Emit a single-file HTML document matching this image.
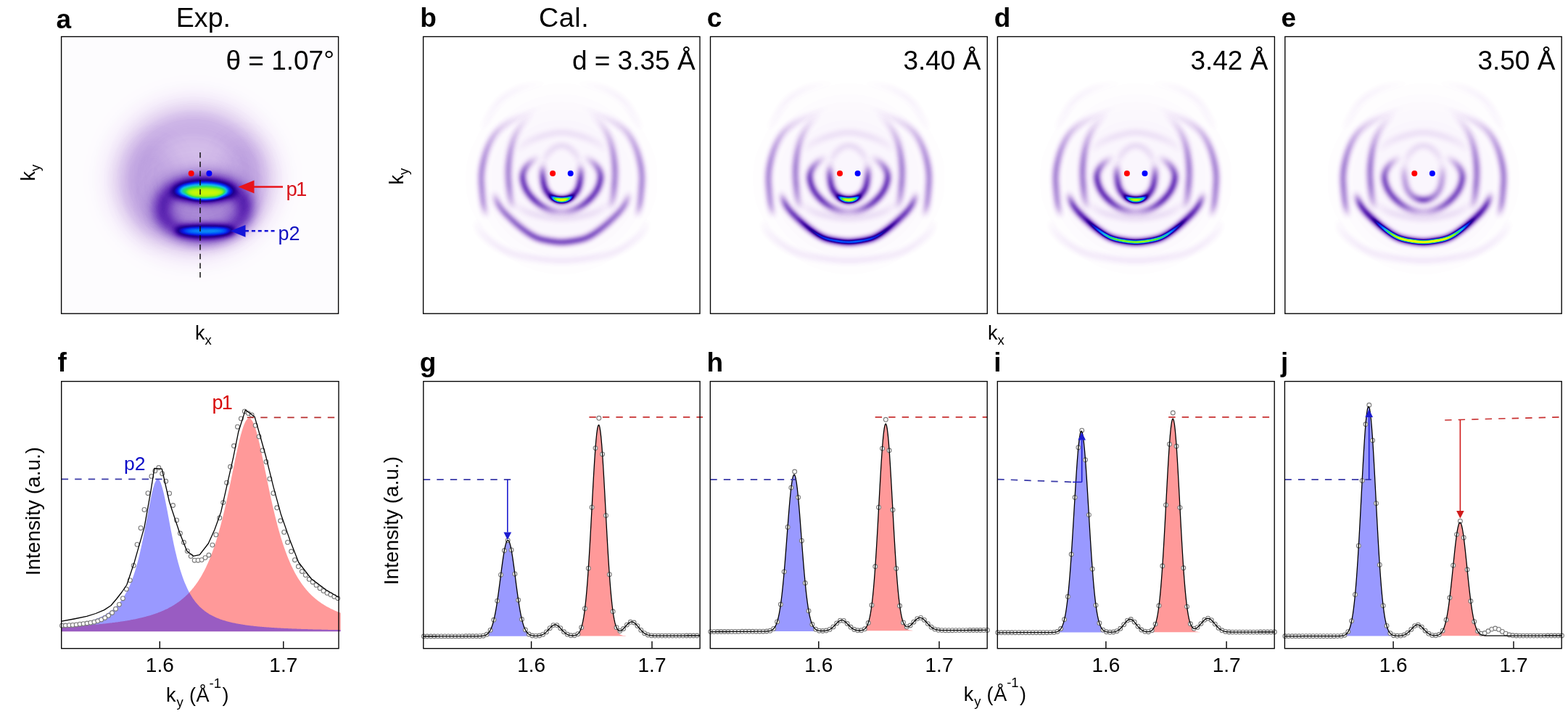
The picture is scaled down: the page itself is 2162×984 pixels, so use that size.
<!DOCTYPE html>
<html><head><meta charset="utf-8"><title>Figure</title>
<style>
html,body{margin:0;padding:0;background:#fff;}
body{width:2162px;height:984px;overflow:hidden;}
svg{display:block;}
text{font-family:'Liberation Sans', Arial, Helvetica, sans-serif;}
</style></head><body>
<svg width="2162" height="984" viewBox="0 0 2162 984">
<defs>
<filter id="ab1_8" filterUnits="userSpaceOnUse" x="-250" y="-250" width="500" height="500"><feGaussianBlur stdDeviation="1.8"/></filter>
<filter id="ab2_0" filterUnits="userSpaceOnUse" x="-250" y="-250" width="500" height="500"><feGaussianBlur stdDeviation="2.0"/></filter>
<filter id="ab3_5" filterUnits="userSpaceOnUse" x="-250" y="-250" width="500" height="500"><feGaussianBlur stdDeviation="3.5"/></filter>
<g id="A0" filter="url(#ab3_5)"><g fill="none" stroke="#000" stroke-width="8" stroke-linecap="butt"><path d="M-112 -58L-110 -61.4" stroke-opacity="0.077"/><path d="M-110 -61.4L-108 -64.9" stroke-opacity="0.235"/><path d="M-108 -64.9L-106 -68.3" stroke-opacity="0.375"/><path d="M-106 -68.3L-103.9 -71.6" stroke-opacity="0.473"/><path d="M-103.9 -71.6L-101.9 -75" stroke-opacity="0.541"/><path d="M-101.9 -75L-99.9 -78.5" stroke-opacity="0.595"/><path d="M-99.9 -78.5L-98 -81.9" stroke-opacity="0.641"/><path d="M-98 -81.9L-95.9 -85.3" stroke-opacity="0.682"/><path d="M-95.9 -85.3L-93.8 -88.7" stroke-opacity="0.717"/><path d="M-93.8 -88.7L-91.6 -92" stroke-opacity="0.749"/><path d="M-91.6 -92L-89.2 -95.1" stroke-opacity="0.775"/><path d="M-89.2 -95.1L-86.6 -98.1" stroke-opacity="0.794"/><path d="M-86.6 -98.1L-83.8 -100.8" stroke-opacity="0.805"/><path d="M-83.8 -100.8L-80.7 -103.3" stroke-opacity="0.807"/><path d="M-80.7 -103.3L-77.5 -105.7" stroke-opacity="0.800"/><path d="M-77.5 -105.7L-74.2 -107.8" stroke-opacity="0.786"/><path d="M-74.2 -107.8L-70.8 -109.9" stroke-opacity="0.765"/><path d="M-70.8 -109.9L-67.3 -111.8" stroke-opacity="0.739"/><path d="M-67.3 -111.8L-63.9 -113.7" stroke-opacity="0.708"/><path d="M-63.9 -113.7L-60.3 -115.5" stroke-opacity="0.668"/><path d="M-60.3 -115.5L-56.6 -117" stroke-opacity="0.614"/><path d="M-56.6 -117L-52.9 -118.2" stroke-opacity="0.547"/><path d="M-52.9 -118.2L-49 -119.2" stroke-opacity="0.478"/><path d="M-49 -119.2L-45.2 -120.1" stroke-opacity="0.415"/><path d="M-45.2 -120.1L-41.3 -121" stroke-opacity="0.359"/><path d="M-41.3 -121L-37.4 -121.8" stroke-opacity="0.305"/><path d="M-37.4 -121.8L-33.5 -122.4" stroke-opacity="0.253"/><path d="M-33.5 -122.4L-29.6 -123" stroke-opacity="0.203"/><path d="M-29.6 -123L-25.7 -123.6" stroke-opacity="0.157"/><path d="M-25.7 -123.6L-21.8 -124" stroke-opacity="0.117"/><path d="M-21.8 -124L-17.8 -124.4" stroke-opacity="0.082"/><path d="M-17.8 -124.4L-13.9 -124.7" stroke-opacity="0.054"/><path d="M-13.9 -124.7L-9.9 -124.9" stroke-opacity="0.031"/><path d="M-9.9 -124.9L-5.9 -125" stroke-opacity="0.014"/><path d="M-5.9 -125L-2 -125" stroke-opacity="0.004"/><path d="M2 -125L5.9 -125" stroke-opacity="0.004"/><path d="M5.9 -125L9.9 -124.9" stroke-opacity="0.014"/><path d="M9.9 -124.9L13.9 -124.7" stroke-opacity="0.031"/><path d="M13.9 -124.7L17.8 -124.4" stroke-opacity="0.054"/><path d="M17.8 -124.4L21.8 -124" stroke-opacity="0.082"/><path d="M21.8 -124L25.7 -123.6" stroke-opacity="0.117"/><path d="M25.7 -123.6L29.6 -123" stroke-opacity="0.157"/><path d="M29.6 -123L33.5 -122.4" stroke-opacity="0.203"/><path d="M33.5 -122.4L37.4 -121.8" stroke-opacity="0.253"/><path d="M37.4 -121.8L41.3 -121" stroke-opacity="0.305"/><path d="M41.3 -121L45.2 -120.1" stroke-opacity="0.359"/><path d="M45.2 -120.1L49 -119.2" stroke-opacity="0.415"/><path d="M49 -119.2L52.9 -118.2" stroke-opacity="0.478"/><path d="M52.9 -118.2L56.6 -117" stroke-opacity="0.547"/><path d="M56.6 -117L60.3 -115.5" stroke-opacity="0.614"/><path d="M60.3 -115.5L63.9 -113.7" stroke-opacity="0.668"/><path d="M63.9 -113.7L67.3 -111.8" stroke-opacity="0.708"/><path d="M67.3 -111.8L70.8 -109.9" stroke-opacity="0.739"/><path d="M70.8 -109.9L74.2 -107.8" stroke-opacity="0.765"/><path d="M74.2 -107.8L77.5 -105.7" stroke-opacity="0.786"/><path d="M77.5 -105.7L80.7 -103.3" stroke-opacity="0.800"/><path d="M80.7 -103.3L83.8 -100.8" stroke-opacity="0.807"/><path d="M83.8 -100.8L86.6 -98.1" stroke-opacity="0.805"/><path d="M86.6 -98.1L89.2 -95.1" stroke-opacity="0.794"/><path d="M89.2 -95.1L91.6 -92" stroke-opacity="0.775"/><path d="M91.6 -92L93.8 -88.7" stroke-opacity="0.749"/><path d="M93.8 -88.7L95.9 -85.3" stroke-opacity="0.717"/><path d="M95.9 -85.3L98 -81.9" stroke-opacity="0.682"/><path d="M98 -81.9L99.9 -78.5" stroke-opacity="0.641"/><path d="M99.9 -78.5L101.9 -75" stroke-opacity="0.595"/><path d="M101.9 -75L103.9 -71.6" stroke-opacity="0.541"/><path d="M103.9 -71.6L106 -68.3" stroke-opacity="0.473"/><path d="M106 -68.3L108 -64.9" stroke-opacity="0.375"/><path d="M108 -64.9L110 -61.4" stroke-opacity="0.235"/><path d="M110 -61.4L112 -58" stroke-opacity="0.077"/></g></g>
<g id="A1L" filter="url(#ab3_5)"><g fill="none" stroke="#000" stroke-width="7" stroke-linecap="butt"><path d="M-22 -92L-25.7 -90.6" stroke-opacity="0.006"/><path d="M-25.7 -90.6L-29.3 -89.1" stroke-opacity="0.019"/><path d="M-29.3 -89.1L-33 -87.7" stroke-opacity="0.032"/><path d="M-33 -87.7L-36.6 -86.3" stroke-opacity="0.045"/><path d="M-36.6 -86.3L-40.3 -84.8" stroke-opacity="0.061"/><path d="M-40.3 -84.8L-43.9 -83.3" stroke-opacity="0.078"/><path d="M-43.9 -83.3L-47.6 -81.8" stroke-opacity="0.097"/><path d="M-47.6 -81.8L-51.2 -80.3" stroke-opacity="0.119"/><path d="M-51.2 -80.3L-54.8 -78.7" stroke-opacity="0.142"/><path d="M-54.8 -78.7L-58.4 -77.2" stroke-opacity="0.169"/><path d="M-58.4 -77.2L-62 -75.6" stroke-opacity="0.198"/><path d="M-62 -75.6L-65.6 -74" stroke-opacity="0.228"/><path d="M-65.6 -74L-69.1 -72.2" stroke-opacity="0.261"/><path d="M-69.1 -72.2L-72.5 -70.3" stroke-opacity="0.295"/><path d="M-72.5 -70.3L-75.8 -68.2" stroke-opacity="0.332"/><path d="M-75.8 -68.2L-79.1 -65.9" stroke-opacity="0.370"/><path d="M-79.1 -65.9L-82.2 -63.6" stroke-opacity="0.410"/><path d="M-82.2 -63.6L-85.2 -61.1" stroke-opacity="0.450"/><path d="M-85.2 -61.1L-88.1 -58.3" stroke-opacity="0.492"/><path d="M-88.1 -58.3L-90.7 -55.4" stroke-opacity="0.535"/><path d="M-90.7 -55.4L-93 -52.3" stroke-opacity="0.580"/><path d="M-93 -52.3L-95.2 -49" stroke-opacity="0.624"/><path d="M-95.2 -49L-97.2 -45.6" stroke-opacity="0.667"/><path d="M-97.2 -45.6L-99 -42.1" stroke-opacity="0.709"/><path d="M-99 -42.1L-100.7 -38.5" stroke-opacity="0.750"/><path d="M-100.7 -38.5L-102.2 -34.9" stroke-opacity="0.790"/><path d="M-102.2 -34.9L-103.6 -31.2" stroke-opacity="0.828"/><path d="M-103.6 -31.2L-104.9 -27.5" stroke-opacity="0.863"/><path d="M-104.9 -27.5L-106 -23.7" stroke-opacity="0.893"/><path d="M-106 -23.7L-107 -20" stroke-opacity="0.919"/><path d="M-107 -20L-107.9 -16.1" stroke-opacity="0.940"/><path d="M-107.9 -16.1L-108.7 -12.3" stroke-opacity="0.959"/><path d="M-108.7 -12.3L-109.4 -8.4" stroke-opacity="0.974"/><path d="M-109.4 -8.4L-110 -4.5" stroke-opacity="0.988"/><path d="M-110 -4.5L-110.4 -0.6" stroke-opacity="0.998"/><path d="M-110.4 -0.6L-110.7 3.3" stroke-opacity="1.000"/><path d="M-110.7 3.3L-110.8 7.2" stroke-opacity="1.000"/><path d="M-110.8 7.2L-110.7 11.2" stroke-opacity="1.000"/><path d="M-110.7 11.2L-110.5 15.1" stroke-opacity="1.000"/><path d="M-110.5 15.1L-110.2 19" stroke-opacity="1.000"/><path d="M-110.2 19L-110 22.9" stroke-opacity="0.989"/><path d="M-110 22.9L-109.6 26.9" stroke-opacity="0.976"/><path d="M-109.6 26.9L-109.3 30.8" stroke-opacity="0.961"/><path d="M-109.3 30.8L-108.9 34.7" stroke-opacity="0.940"/><path d="M-108.9 34.7L-108.4 38.6" stroke-opacity="0.910"/><path d="M-108.4 38.6L-107.9 42.5" stroke-opacity="0.864"/><path d="M-107.9 42.5L-107.2 46.4" stroke-opacity="0.790"/><path d="M-107.2 46.4L-106.3 50.2" stroke-opacity="0.673"/><path d="M-106.3 50.2L-105.3 54" stroke-opacity="0.506"/><path d="M-105.3 54L-104.1 57.7" stroke-opacity="0.303"/><path d="M-104.1 57.7L-103 61.5" stroke-opacity="0.098"/></g></g>
<g id="A1R" filter="url(#ab3_5)"><g fill="none" stroke="#000" stroke-width="7" stroke-linecap="butt"><path d="M22 -92L25.7 -90.6" stroke-opacity="0.006"/><path d="M25.7 -90.6L29.3 -89.1" stroke-opacity="0.019"/><path d="M29.3 -89.1L33 -87.7" stroke-opacity="0.032"/><path d="M33 -87.7L36.6 -86.3" stroke-opacity="0.045"/><path d="M36.6 -86.3L40.3 -84.8" stroke-opacity="0.061"/><path d="M40.3 -84.8L43.9 -83.3" stroke-opacity="0.078"/><path d="M43.9 -83.3L47.6 -81.8" stroke-opacity="0.097"/><path d="M47.6 -81.8L51.2 -80.3" stroke-opacity="0.119"/><path d="M51.2 -80.3L54.8 -78.7" stroke-opacity="0.142"/><path d="M54.8 -78.7L58.4 -77.2" stroke-opacity="0.169"/><path d="M58.4 -77.2L62 -75.6" stroke-opacity="0.198"/><path d="M62 -75.6L65.6 -74" stroke-opacity="0.228"/><path d="M65.6 -74L69.1 -72.2" stroke-opacity="0.261"/><path d="M69.1 -72.2L72.5 -70.3" stroke-opacity="0.295"/><path d="M72.5 -70.3L75.8 -68.2" stroke-opacity="0.332"/><path d="M75.8 -68.2L79.1 -65.9" stroke-opacity="0.370"/><path d="M79.1 -65.9L82.2 -63.6" stroke-opacity="0.410"/><path d="M82.2 -63.6L85.2 -61.1" stroke-opacity="0.450"/><path d="M85.2 -61.1L88.1 -58.3" stroke-opacity="0.492"/><path d="M88.1 -58.3L90.7 -55.4" stroke-opacity="0.535"/><path d="M90.7 -55.4L93 -52.3" stroke-opacity="0.580"/><path d="M93 -52.3L95.2 -49" stroke-opacity="0.624"/><path d="M95.2 -49L97.2 -45.6" stroke-opacity="0.667"/><path d="M97.2 -45.6L99 -42.1" stroke-opacity="0.709"/><path d="M99 -42.1L100.7 -38.5" stroke-opacity="0.750"/><path d="M100.7 -38.5L102.2 -34.9" stroke-opacity="0.790"/><path d="M102.2 -34.9L103.6 -31.2" stroke-opacity="0.828"/><path d="M103.6 -31.2L104.9 -27.5" stroke-opacity="0.863"/><path d="M104.9 -27.5L106 -23.7" stroke-opacity="0.893"/><path d="M106 -23.7L107 -20" stroke-opacity="0.919"/><path d="M107 -20L107.9 -16.1" stroke-opacity="0.940"/><path d="M107.9 -16.1L108.7 -12.3" stroke-opacity="0.959"/><path d="M108.7 -12.3L109.4 -8.4" stroke-opacity="0.974"/><path d="M109.4 -8.4L110 -4.5" stroke-opacity="0.988"/><path d="M110 -4.5L110.4 -0.6" stroke-opacity="0.998"/><path d="M110.4 -0.6L110.7 3.3" stroke-opacity="1.000"/><path d="M110.7 3.3L110.8 7.2" stroke-opacity="1.000"/><path d="M110.8 7.2L110.7 11.2" stroke-opacity="1.000"/><path d="M110.7 11.2L110.5 15.1" stroke-opacity="1.000"/><path d="M110.5 15.1L110.2 19" stroke-opacity="1.000"/><path d="M110.2 19L110 22.9" stroke-opacity="0.989"/><path d="M110 22.9L109.6 26.9" stroke-opacity="0.976"/><path d="M109.6 26.9L109.3 30.8" stroke-opacity="0.961"/><path d="M109.3 30.8L108.9 34.7" stroke-opacity="0.940"/><path d="M108.9 34.7L108.4 38.6" stroke-opacity="0.910"/><path d="M108.4 38.6L107.9 42.5" stroke-opacity="0.864"/><path d="M107.9 42.5L107.2 46.4" stroke-opacity="0.790"/><path d="M107.2 46.4L106.3 50.2" stroke-opacity="0.673"/><path d="M106.3 50.2L105.3 54" stroke-opacity="0.506"/><path d="M105.3 54L104.1 57.7" stroke-opacity="0.303"/><path d="M104.1 57.7L103 61.5" stroke-opacity="0.098"/></g></g>
<g id="A5L" filter="url(#ab3_5)"><g fill="none" stroke="#000" stroke-width="7" stroke-linecap="butt"><path d="M-38 -82L-41.2 -79.7" stroke-opacity="0.018"/><path d="M-41.2 -79.7L-44.4 -77.5" stroke-opacity="0.053"/><path d="M-44.4 -77.5L-47.4 -75" stroke-opacity="0.091"/><path d="M-47.4 -75L-50.2 -72.3" stroke-opacity="0.135"/><path d="M-50.2 -72.3L-52.9 -69.5" stroke-opacity="0.188"/><path d="M-52.9 -69.5L-55.4 -66.5" stroke-opacity="0.244"/><path d="M-55.4 -66.5L-57.7 -63.3" stroke-opacity="0.301"/><path d="M-57.7 -63.3L-59.7 -60" stroke-opacity="0.357"/><path d="M-59.7 -60L-61.7 -56.6" stroke-opacity="0.413"/><path d="M-61.7 -56.6L-63.4 -53.1" stroke-opacity="0.470"/><path d="M-63.4 -53.1L-65.1 -49.6" stroke-opacity="0.527"/><path d="M-65.1 -49.6L-66.6 -46" stroke-opacity="0.585"/><path d="M-66.6 -46L-67.8 -42.3" stroke-opacity="0.642"/><path d="M-67.8 -42.3L-68.9 -38.5" stroke-opacity="0.694"/><path d="M-68.9 -38.5L-69.8 -34.7" stroke-opacity="0.743"/><path d="M-69.8 -34.7L-70.6 -30.9" stroke-opacity="0.789"/><path d="M-70.6 -30.9L-71.2 -27.1" stroke-opacity="0.833"/><path d="M-71.2 -27.1L-71.8 -23.2" stroke-opacity="0.872"/><path d="M-71.8 -23.2L-72.3 -19.3" stroke-opacity="0.905"/><path d="M-72.3 -19.3L-72.8 -15.5" stroke-opacity="0.933"/><path d="M-72.8 -15.5L-73.1 -11.6" stroke-opacity="0.957"/><path d="M-73.1 -11.6L-73.4 -7.7" stroke-opacity="0.977"/><path d="M-73.4 -7.7L-73.6 -3.8" stroke-opacity="0.991"/><path d="M-73.6 -3.8L-73.6 0.1" stroke-opacity="1.000"/><path d="M-73.6 0.1L-73.5 4" stroke-opacity="1.000"/><path d="M-73.5 4L-73.4 7.9" stroke-opacity="1.000"/><path d="M-73.4 7.9L-73.1 11.8" stroke-opacity="0.998"/><path d="M-73.1 11.8L-72.8 15.7" stroke-opacity="0.981"/><path d="M-72.8 15.7L-72.4 19.6" stroke-opacity="0.951"/><path d="M-72.4 19.6L-72 23.5" stroke-opacity="0.908"/><path d="M-72 23.5L-71.6 27.4" stroke-opacity="0.854"/><path d="M-71.6 27.4L-71.1 31.2" stroke-opacity="0.790"/><path d="M-71.1 31.2L-70.5 35.1" stroke-opacity="0.712"/><path d="M-70.5 35.1L-69.7 38.9" stroke-opacity="0.616"/><path d="M-69.7 38.9L-68.7 42.7" stroke-opacity="0.482"/><path d="M-68.7 42.7L-67.3 46.3" stroke-opacity="0.302"/><path d="M-67.3 46.3L-66 50" stroke-opacity="0.100"/></g></g>
<g id="A5R" filter="url(#ab3_5)"><g fill="none" stroke="#000" stroke-width="7" stroke-linecap="butt"><path d="M38 -82L41.2 -79.7" stroke-opacity="0.018"/><path d="M41.2 -79.7L44.4 -77.5" stroke-opacity="0.053"/><path d="M44.4 -77.5L47.4 -75" stroke-opacity="0.091"/><path d="M47.4 -75L50.2 -72.3" stroke-opacity="0.135"/><path d="M50.2 -72.3L52.9 -69.5" stroke-opacity="0.188"/><path d="M52.9 -69.5L55.4 -66.5" stroke-opacity="0.244"/><path d="M55.4 -66.5L57.7 -63.3" stroke-opacity="0.301"/><path d="M57.7 -63.3L59.7 -60" stroke-opacity="0.357"/><path d="M59.7 -60L61.7 -56.6" stroke-opacity="0.413"/><path d="M61.7 -56.6L63.4 -53.1" stroke-opacity="0.470"/><path d="M63.4 -53.1L65.1 -49.6" stroke-opacity="0.527"/><path d="M65.1 -49.6L66.6 -46" stroke-opacity="0.585"/><path d="M66.6 -46L67.8 -42.3" stroke-opacity="0.642"/><path d="M67.8 -42.3L68.9 -38.5" stroke-opacity="0.694"/><path d="M68.9 -38.5L69.8 -34.7" stroke-opacity="0.743"/><path d="M69.8 -34.7L70.6 -30.9" stroke-opacity="0.789"/><path d="M70.6 -30.9L71.2 -27.1" stroke-opacity="0.833"/><path d="M71.2 -27.1L71.8 -23.2" stroke-opacity="0.872"/><path d="M71.8 -23.2L72.3 -19.3" stroke-opacity="0.905"/><path d="M72.3 -19.3L72.8 -15.5" stroke-opacity="0.933"/><path d="M72.8 -15.5L73.1 -11.6" stroke-opacity="0.957"/><path d="M73.1 -11.6L73.4 -7.7" stroke-opacity="0.977"/><path d="M73.4 -7.7L73.6 -3.8" stroke-opacity="0.991"/><path d="M73.6 -3.8L73.6 0.1" stroke-opacity="1.000"/><path d="M73.6 0.1L73.5 4" stroke-opacity="1.000"/><path d="M73.5 4L73.4 7.9" stroke-opacity="1.000"/><path d="M73.4 7.9L73.1 11.8" stroke-opacity="0.998"/><path d="M73.1 11.8L72.8 15.7" stroke-opacity="0.981"/><path d="M72.8 15.7L72.4 19.6" stroke-opacity="0.951"/><path d="M72.4 19.6L72 23.5" stroke-opacity="0.908"/><path d="M72 23.5L71.6 27.4" stroke-opacity="0.854"/><path d="M71.6 27.4L71.1 31.2" stroke-opacity="0.790"/><path d="M71.1 31.2L70.5 35.1" stroke-opacity="0.712"/><path d="M70.5 35.1L69.7 38.9" stroke-opacity="0.616"/><path d="M69.7 38.9L68.7 42.7" stroke-opacity="0.482"/><path d="M68.7 42.7L67.3 46.3" stroke-opacity="0.302"/><path d="M67.3 46.3L66 50" stroke-opacity="0.100"/></g></g>
<g id="A3" filter="url(#ab3_5)"><g fill="none" stroke="#000" stroke-width="7" stroke-linecap="butt"><path d="M-94 26L-92.8 29.8" stroke-opacity="0.085"/><path d="M-92.8 29.8L-91.6 33.5" stroke-opacity="0.256"/><path d="M-91.6 33.5L-90.3 37.2" stroke-opacity="0.418"/><path d="M-90.3 37.2L-88.6 40.8" stroke-opacity="0.545"/><path d="M-88.6 40.8L-86.7 44.3" stroke-opacity="0.626"/><path d="M-86.7 44.3L-84.5 47.6" stroke-opacity="0.672"/><path d="M-84.5 47.6L-82.1 50.7" stroke-opacity="0.703"/><path d="M-82.1 50.7L-79.5 53.7" stroke-opacity="0.731"/><path d="M-79.5 53.7L-76.8 56.5" stroke-opacity="0.755"/><path d="M-76.8 56.5L-74 59.3" stroke-opacity="0.774"/><path d="M-74 59.3L-71.1 62" stroke-opacity="0.791"/><path d="M-71.1 62L-68.2 64.7" stroke-opacity="0.807"/><path d="M-68.2 64.7L-65.3 67.4" stroke-opacity="0.824"/><path d="M-65.3 67.4L-62.4 70" stroke-opacity="0.840"/><path d="M-62.4 70L-59.4 72.6" stroke-opacity="0.856"/><path d="M-59.4 72.6L-56.3 75.1" stroke-opacity="0.871"/><path d="M-56.3 75.1L-53.2 77.5" stroke-opacity="0.886"/><path d="M-53.2 77.5L-50 79.8" stroke-opacity="0.900"/><path d="M-50 79.8L-46.8 82.1" stroke-opacity="0.913"/><path d="M-46.8 82.1L-43.5 84.3" stroke-opacity="0.925"/><path d="M-43.5 84.3L-40.1 86.4" stroke-opacity="0.937"/><path d="M-40.1 86.4L-36.6 88.2" stroke-opacity="0.948"/><path d="M-36.6 88.2L-33 89.8" stroke-opacity="0.958"/><path d="M-33 89.8L-29.3 91" stroke-opacity="0.968"/><path d="M-29.3 91L-25.4 91.9" stroke-opacity="0.977"/><path d="M-25.4 91.9L-21.5 92.7" stroke-opacity="0.985"/><path d="M-21.5 92.7L-17.7 93.4" stroke-opacity="0.992"/><path d="M-17.7 93.4L-13.8 94" stroke-opacity="0.998"/><path d="M-13.8 94L-9.8 94.6" stroke-opacity="1.000"/><path d="M-9.8 94.6L-5.9 95" stroke-opacity="1.000"/><path d="M-5.9 95L-2 95.2" stroke-opacity="1.000"/><path d="M-2 95.2L2 95.2" stroke-opacity="1.000"/><path d="M2 95.2L5.9 95" stroke-opacity="1.000"/><path d="M5.9 95L9.8 94.6" stroke-opacity="1.000"/><path d="M9.8 94.6L13.8 94" stroke-opacity="1.000"/><path d="M13.8 94L17.7 93.4" stroke-opacity="0.998"/><path d="M17.7 93.4L21.5 92.7" stroke-opacity="0.992"/><path d="M21.5 92.7L25.4 91.9" stroke-opacity="0.985"/><path d="M25.4 91.9L29.3 91" stroke-opacity="0.977"/><path d="M29.3 91L33 89.8" stroke-opacity="0.968"/><path d="M33 89.8L36.6 88.2" stroke-opacity="0.958"/><path d="M36.6 88.2L40.1 86.4" stroke-opacity="0.948"/><path d="M40.1 86.4L43.5 84.3" stroke-opacity="0.937"/><path d="M43.5 84.3L46.8 82.1" stroke-opacity="0.925"/><path d="M46.8 82.1L50 79.8" stroke-opacity="0.913"/><path d="M50 79.8L53.2 77.5" stroke-opacity="0.900"/><path d="M53.2 77.5L56.3 75.1" stroke-opacity="0.886"/><path d="M56.3 75.1L59.4 72.6" stroke-opacity="0.871"/><path d="M59.4 72.6L62.4 70" stroke-opacity="0.856"/><path d="M62.4 70L65.3 67.4" stroke-opacity="0.840"/><path d="M65.3 67.4L68.2 64.7" stroke-opacity="0.824"/><path d="M68.2 64.7L71.1 62" stroke-opacity="0.807"/><path d="M71.1 62L74 59.3" stroke-opacity="0.791"/><path d="M74 59.3L76.8 56.5" stroke-opacity="0.774"/><path d="M76.8 56.5L79.5 53.7" stroke-opacity="0.755"/><path d="M79.5 53.7L82.1 50.7" stroke-opacity="0.731"/><path d="M82.1 50.7L84.5 47.6" stroke-opacity="0.703"/><path d="M84.5 47.6L86.7 44.3" stroke-opacity="0.672"/><path d="M86.7 44.3L88.6 40.8" stroke-opacity="0.626"/><path d="M88.6 40.8L90.3 37.2" stroke-opacity="0.545"/><path d="M90.3 37.2L91.6 33.5" stroke-opacity="0.418"/><path d="M91.6 33.5L92.8 29.8" stroke-opacity="0.256"/><path d="M92.8 29.8L94 26" stroke-opacity="0.085"/></g></g>
<g id="A4" filter="url(#ab3_5)"><g fill="none" stroke="#000" stroke-width="8" stroke-linecap="butt"><path d="M-118 62L-117.3 65.9" stroke-opacity="0.073"/><path d="M-117.3 65.9L-116.8 69.9" stroke-opacity="0.221"/><path d="M-116.8 69.9L-116.1 73.7" stroke-opacity="0.369"/><path d="M-116.1 73.7L-114.6 77.4" stroke-opacity="0.499"/><path d="M-114.6 77.4L-112.3 80.7" stroke-opacity="0.599"/><path d="M-112.3 80.7L-109.8 83.7" stroke-opacity="0.672"/><path d="M-109.8 83.7L-107 86.6" stroke-opacity="0.727"/><path d="M-107 86.6L-104.1 89.3" stroke-opacity="0.773"/><path d="M-104.1 89.3L-101.1 91.9" stroke-opacity="0.812"/><path d="M-101.1 91.9L-98 94.4" stroke-opacity="0.845"/><path d="M-98 94.4L-94.8 96.8" stroke-opacity="0.876"/><path d="M-94.8 96.8L-91.6 99" stroke-opacity="0.904"/><path d="M-91.6 99L-88.2 101.1" stroke-opacity="0.928"/><path d="M-88.2 101.1L-84.8 103.2" stroke-opacity="0.948"/><path d="M-84.8 103.2L-81.3 105" stroke-opacity="0.963"/><path d="M-81.3 105L-77.7 106.8" stroke-opacity="0.974"/><path d="M-77.7 106.8L-74.1 108.4" stroke-opacity="0.984"/><path d="M-74.1 108.4L-70.4 109.9" stroke-opacity="0.991"/><path d="M-70.4 109.9L-66.7 111.2" stroke-opacity="0.998"/><path d="M-66.7 111.2L-62.9 112.4" stroke-opacity="1.000"/><path d="M-62.9 112.4L-59 113.5" stroke-opacity="1.000"/><path d="M-59 113.5L-55.2 114.4" stroke-opacity="1.000"/><path d="M-55.2 114.4L-51.3 115.2" stroke-opacity="1.000"/><path d="M-51.3 115.2L-47.4 115.9" stroke-opacity="1.000"/><path d="M-47.4 115.9L-43.5 116.6" stroke-opacity="1.000"/><path d="M-43.5 116.6L-39.6 117.2" stroke-opacity="1.000"/><path d="M-39.6 117.2L-35.6 117.8" stroke-opacity="1.000"/><path d="M-35.6 117.8L-31.7 118.4" stroke-opacity="1.000"/><path d="M-31.7 118.4L-27.7 118.8" stroke-opacity="1.000"/><path d="M-27.7 118.8L-23.8 119.3" stroke-opacity="1.000"/><path d="M-23.8 119.3L-19.8 119.6" stroke-opacity="1.000"/><path d="M-19.8 119.6L-15.9 119.9" stroke-opacity="1.000"/><path d="M-15.9 119.9L-11.9 120.2" stroke-opacity="1.000"/><path d="M-11.9 120.2L-7.9 120.4" stroke-opacity="1.000"/><path d="M-7.9 120.4L-4 120.5" stroke-opacity="1.000"/><path d="M-4 120.5L0 120.5" stroke-opacity="1.000"/><path d="M0 120.5L4 120.5" stroke-opacity="1.000"/><path d="M4 120.5L7.9 120.4" stroke-opacity="1.000"/><path d="M7.9 120.4L11.9 120.2" stroke-opacity="1.000"/><path d="M11.9 120.2L15.9 119.9" stroke-opacity="1.000"/><path d="M15.9 119.9L19.8 119.6" stroke-opacity="1.000"/><path d="M19.8 119.6L23.8 119.3" stroke-opacity="1.000"/><path d="M23.8 119.3L27.7 118.8" stroke-opacity="1.000"/><path d="M27.7 118.8L31.7 118.4" stroke-opacity="1.000"/><path d="M31.7 118.4L35.6 117.8" stroke-opacity="1.000"/><path d="M35.6 117.8L39.6 117.2" stroke-opacity="1.000"/><path d="M39.6 117.2L43.5 116.6" stroke-opacity="1.000"/><path d="M43.5 116.6L47.4 115.9" stroke-opacity="1.000"/><path d="M47.4 115.9L51.3 115.2" stroke-opacity="1.000"/><path d="M51.3 115.2L55.2 114.4" stroke-opacity="1.000"/><path d="M55.2 114.4L59 113.5" stroke-opacity="1.000"/><path d="M59 113.5L62.9 112.4" stroke-opacity="1.000"/><path d="M62.9 112.4L66.7 111.2" stroke-opacity="1.000"/><path d="M66.7 111.2L70.4 109.9" stroke-opacity="0.998"/><path d="M70.4 109.9L74.1 108.4" stroke-opacity="0.991"/><path d="M74.1 108.4L77.7 106.8" stroke-opacity="0.984"/><path d="M77.7 106.8L81.3 105" stroke-opacity="0.974"/><path d="M81.3 105L84.8 103.2" stroke-opacity="0.963"/><path d="M84.8 103.2L88.2 101.1" stroke-opacity="0.948"/><path d="M88.2 101.1L91.6 99" stroke-opacity="0.928"/><path d="M91.6 99L94.8 96.8" stroke-opacity="0.904"/><path d="M94.8 96.8L98 94.4" stroke-opacity="0.876"/><path d="M98 94.4L101.1 91.9" stroke-opacity="0.845"/><path d="M101.1 91.9L104.1 89.3" stroke-opacity="0.812"/><path d="M104.1 89.3L107 86.6" stroke-opacity="0.773"/><path d="M107 86.6L109.8 83.7" stroke-opacity="0.727"/><path d="M109.8 83.7L112.3 80.7" stroke-opacity="0.672"/><path d="M112.3 80.7L114.6 77.4" stroke-opacity="0.599"/><path d="M114.6 77.4L116.1 73.7" stroke-opacity="0.499"/><path d="M116.1 73.7L116.8 69.9" stroke-opacity="0.369"/><path d="M116.8 69.9L117.3 65.9" stroke-opacity="0.221"/><path d="M117.3 65.9L118 62" stroke-opacity="0.073"/></g></g>
<g id="A7L" filter="url(#ab3_5)"><g fill="none" stroke="#000" stroke-width="7.5" stroke-linecap="butt"><path d="M-30 -23L-33.5 -21.3" stroke-opacity="0.052"/><path d="M-33.5 -21.3L-36.9 -19.2" stroke-opacity="0.159"/><path d="M-36.9 -19.2L-40.2 -17.1" stroke-opacity="0.271"/><path d="M-40.2 -17.1L-43.3 -14.7" stroke-opacity="0.385"/><path d="M-43.3 -14.7L-46.2 -12" stroke-opacity="0.496"/><path d="M-46.2 -12L-48.6 -9" stroke-opacity="0.595"/><path d="M-48.6 -9L-50.9 -5.7" stroke-opacity="0.685"/><path d="M-50.9 -5.7L-52.7 -2.3" stroke-opacity="0.766"/><path d="M-52.7 -2.3L-53.8 1.5" stroke-opacity="0.841"/><path d="M-53.8 1.5L-54 5.4" stroke-opacity="0.903"/><path d="M-54 5.4L-53.6 9.3" stroke-opacity="0.952"/><path d="M-53.6 9.3L-52.8 13.1" stroke-opacity="0.987"/><path d="M-52.8 13.1L-51.6 16.9" stroke-opacity="1.000"/><path d="M-51.6 16.9L-50.1 20.5" stroke-opacity="1.000"/><path d="M-50.1 20.5L-48.4 24" stroke-opacity="1.000"/><path d="M-48.4 24L-46.3 27.4" stroke-opacity="1.000"/><path d="M-46.3 27.4L-43.9 30.5" stroke-opacity="1.000"/><path d="M-43.9 30.5L-41.3 33.4" stroke-opacity="1.000"/><path d="M-41.3 33.4L-38.5 36.3" stroke-opacity="1.000"/><path d="M-38.5 36.3L-35.7 38.9" stroke-opacity="0.989"/><path d="M-35.7 38.9L-32.7 41.4" stroke-opacity="0.966"/><path d="M-32.7 41.4L-29.5 43.8" stroke-opacity="0.933"/><path d="M-29.5 43.8L-26.2 46" stroke-opacity="0.888"/><path d="M-26.2 46L-22.8 47.8" stroke-opacity="0.824"/><path d="M-22.8 47.8L-19.2 49.4" stroke-opacity="0.748"/><path d="M-19.2 49.4L-15.5 50.8" stroke-opacity="0.668"/><path d="M-15.5 50.8L-11.7 51.8" stroke-opacity="0.587"/><path d="M-11.7 51.8L-7.8 52.5" stroke-opacity="0.513"/><path d="M-7.8 52.5L-3.9 52.8" stroke-opacity="0.459"/><path d="M-3.9 52.8L0 53" stroke-opacity="0.419"/></g></g>
<g id="A7R" filter="url(#ab3_5)"><g fill="none" stroke="#000" stroke-width="7.5" stroke-linecap="butt"><path d="M30 -23L33.5 -21.3" stroke-opacity="0.052"/><path d="M33.5 -21.3L36.9 -19.2" stroke-opacity="0.159"/><path d="M36.9 -19.2L40.2 -17.1" stroke-opacity="0.271"/><path d="M40.2 -17.1L43.3 -14.7" stroke-opacity="0.385"/><path d="M43.3 -14.7L46.2 -12" stroke-opacity="0.496"/><path d="M46.2 -12L48.6 -9" stroke-opacity="0.595"/><path d="M48.6 -9L50.9 -5.7" stroke-opacity="0.685"/><path d="M50.9 -5.7L52.7 -2.3" stroke-opacity="0.766"/><path d="M52.7 -2.3L53.8 1.5" stroke-opacity="0.841"/><path d="M53.8 1.5L54 5.4" stroke-opacity="0.903"/><path d="M54 5.4L53.6 9.3" stroke-opacity="0.952"/><path d="M53.6 9.3L52.8 13.1" stroke-opacity="0.987"/><path d="M52.8 13.1L51.6 16.9" stroke-opacity="1.000"/><path d="M51.6 16.9L50.1 20.5" stroke-opacity="1.000"/><path d="M50.1 20.5L48.4 24" stroke-opacity="1.000"/><path d="M48.4 24L46.3 27.4" stroke-opacity="1.000"/><path d="M46.3 27.4L43.9 30.5" stroke-opacity="1.000"/><path d="M43.9 30.5L41.3 33.4" stroke-opacity="1.000"/><path d="M41.3 33.4L38.5 36.3" stroke-opacity="1.000"/><path d="M38.5 36.3L35.7 38.9" stroke-opacity="0.989"/><path d="M35.7 38.9L32.7 41.4" stroke-opacity="0.966"/><path d="M32.7 41.4L29.5 43.8" stroke-opacity="0.933"/><path d="M29.5 43.8L26.2 46" stroke-opacity="0.888"/><path d="M26.2 46L22.8 47.8" stroke-opacity="0.824"/><path d="M22.8 47.8L19.2 49.4" stroke-opacity="0.748"/><path d="M19.2 49.4L15.5 50.8" stroke-opacity="0.668"/><path d="M15.5 50.8L11.7 51.8" stroke-opacity="0.587"/><path d="M11.7 51.8L7.8 52.5" stroke-opacity="0.513"/><path d="M7.8 52.5L3.9 52.8" stroke-opacity="0.459"/><path d="M3.9 52.8L0 53" stroke-opacity="0.419"/></g></g>
<g id="A8" filter="url(#ab3_5)"><g fill="none" stroke="#000" stroke-width="8" stroke-linecap="butt"><path d="M-72 38L-68.7 40.2" stroke-opacity="0.057"/><path d="M-68.7 40.2L-65.4 42.5" stroke-opacity="0.173"/><path d="M-65.4 42.5L-62.2 44.8" stroke-opacity="0.293"/><path d="M-62.2 44.8L-58.9 47" stroke-opacity="0.413"/><path d="M-58.9 47L-55.6 49.2" stroke-opacity="0.529"/><path d="M-55.6 49.2L-52.2 51.3" stroke-opacity="0.637"/><path d="M-52.2 51.3L-48.6 53.1" stroke-opacity="0.732"/><path d="M-48.6 53.1L-45 54.6" stroke-opacity="0.810"/><path d="M-45 54.6L-41.2 55.9" stroke-opacity="0.869"/><path d="M-41.2 55.9L-37.4 57" stroke-opacity="0.911"/><path d="M-37.4 57L-33.5 57.9" stroke-opacity="0.941"/><path d="M-33.5 57.9L-29.6 58.7" stroke-opacity="0.962"/><path d="M-29.6 58.7L-25.7 59.4" stroke-opacity="0.977"/><path d="M-25.7 59.4L-21.8 60.1" stroke-opacity="0.991"/><path d="M-21.8 60.1L-17.8 60.7" stroke-opacity="1.000"/><path d="M-17.8 60.7L-13.9 61.3" stroke-opacity="1.000"/><path d="M-13.9 61.3L-9.9 61.6" stroke-opacity="1.000"/><path d="M-9.9 61.6L-6 61.9" stroke-opacity="1.000"/><path d="M-6 61.9L-2 62" stroke-opacity="1.000"/><path d="M-2 62L2 62" stroke-opacity="1.000"/><path d="M2 62L6 61.9" stroke-opacity="1.000"/><path d="M6 61.9L9.9 61.6" stroke-opacity="1.000"/><path d="M9.9 61.6L13.9 61.3" stroke-opacity="1.000"/><path d="M13.9 61.3L17.8 60.7" stroke-opacity="1.000"/><path d="M17.8 60.7L21.8 60.1" stroke-opacity="1.000"/><path d="M21.8 60.1L25.7 59.4" stroke-opacity="0.991"/><path d="M25.7 59.4L29.6 58.7" stroke-opacity="0.977"/><path d="M29.6 58.7L33.5 57.9" stroke-opacity="0.962"/><path d="M33.5 57.9L37.4 57" stroke-opacity="0.941"/><path d="M37.4 57L41.2 55.9" stroke-opacity="0.911"/><path d="M41.2 55.9L45 54.6" stroke-opacity="0.869"/><path d="M45 54.6L48.6 53.1" stroke-opacity="0.810"/><path d="M48.6 53.1L52.2 51.3" stroke-opacity="0.732"/><path d="M52.2 51.3L55.6 49.2" stroke-opacity="0.637"/><path d="M55.6 49.2L58.9 47" stroke-opacity="0.529"/><path d="M58.9 47L62.2 44.8" stroke-opacity="0.413"/><path d="M62.2 44.8L65.4 42.5" stroke-opacity="0.293"/><path d="M65.4 42.5L68.7 40.2" stroke-opacity="0.173"/><path d="M68.7 40.2L72 38" stroke-opacity="0.057"/></g></g>
<g id="A9" filter="url(#ab3_5)"><g fill="none" stroke="#000" stroke-width="7.5" stroke-linecap="butt"><path d="M-25 -14L-25.6 -10.1" stroke-opacity="0.056"/><path d="M-25.6 -10.1L-26.2 -6.2" stroke-opacity="0.167"/><path d="M-26.2 -6.2L-26.5 -2.2" stroke-opacity="0.270"/><path d="M-26.5 -2.2L-26.5 1.8" stroke-opacity="0.353"/><path d="M-26.5 1.8L-26.2 5.7" stroke-opacity="0.414"/><path d="M-26.2 5.7L-25.6 9.7" stroke-opacity="0.453"/><path d="M-25.6 9.7L-25 13.6" stroke-opacity="0.477"/><path d="M-25 13.6L-24.2 17.5" stroke-opacity="0.493"/><path d="M-24.2 17.5L-23.1 21.3" stroke-opacity="0.508"/><path d="M-23.1 21.3L-21.3 24.8" stroke-opacity="0.526"/><path d="M-21.3 24.8L-18.9 28" stroke-opacity="0.545"/><path d="M-18.9 28L-16.2 30.9" stroke-opacity="0.568"/><path d="M-16.2 30.9L-13.2 33.4" stroke-opacity="0.611"/><path d="M-13.2 33.4L-9.6 35.2" stroke-opacity="0.692"/><path d="M-9.6 35.2L-5.9 36.5" stroke-opacity="0.792"/><path d="M-5.9 36.5L-2 37.2" stroke-opacity="0.887"/><path d="M-2 37.2L2 37.2" stroke-opacity="0.933"/><path d="M2 37.2L5.9 36.5" stroke-opacity="0.887"/><path d="M5.9 36.5L9.6 35.2" stroke-opacity="0.792"/><path d="M9.6 35.2L13.2 33.4" stroke-opacity="0.692"/><path d="M13.2 33.4L16.2 30.9" stroke-opacity="0.611"/><path d="M16.2 30.9L18.9 28" stroke-opacity="0.568"/><path d="M18.9 28L21.3 24.8" stroke-opacity="0.545"/><path d="M21.3 24.8L23.1 21.3" stroke-opacity="0.526"/><path d="M23.1 21.3L24.2 17.5" stroke-opacity="0.508"/><path d="M24.2 17.5L25 13.6" stroke-opacity="0.493"/><path d="M25 13.6L25.6 9.7" stroke-opacity="0.477"/><path d="M25.6 9.7L26.2 5.7" stroke-opacity="0.453"/><path d="M26.2 5.7L26.5 1.8" stroke-opacity="0.414"/><path d="M26.5 1.8L26.5 -2.2" stroke-opacity="0.353"/><path d="M26.5 -2.2L26.2 -6.2" stroke-opacity="0.270"/><path d="M26.2 -6.2L25.6 -10.1" stroke-opacity="0.167"/><path d="M25.6 -10.1L25 -14" stroke-opacity="0.056"/></g></g>
<g id="A9c" filter="url(#ab2_0)"><g fill="none" stroke="#000" stroke-width="4.5" stroke-linecap="butt"><path d="M-18 31.5L-14.6 33.3" stroke-opacity="0.194"/><path d="M-14.6 33.3L-11.1 34.9" stroke-opacity="0.563"/><path d="M-11.1 34.9L-7.6 36.3" stroke-opacity="0.836"/><path d="M-7.6 36.3L-3.8 37.2" stroke-opacity="0.975"/><path d="M-3.8 37.2L-0 37.3" stroke-opacity="1.000"/><path d="M-0 37.3L3.8 37.2" stroke-opacity="1.000"/><path d="M3.8 37.2L7.6 36.3" stroke-opacity="0.975"/><path d="M7.6 36.3L11.1 34.9" stroke-opacity="0.836"/><path d="M11.1 34.9L14.6 33.3" stroke-opacity="0.563"/><path d="M14.6 33.3L18 31.5" stroke-opacity="0.194"/></g></g>
<g id="A3c" filter="url(#ab1_8)"><g fill="none" stroke="#000" stroke-width="4" stroke-linecap="butt"><path d="M-72 61L-69.1 63.6" stroke-opacity="0.040"/><path d="M-69.1 63.6L-66.1 66.2" stroke-opacity="0.121"/><path d="M-66.1 66.2L-63.2 68.8" stroke-opacity="0.203"/><path d="M-63.2 68.8L-60.3 71.4" stroke-opacity="0.285"/><path d="M-60.3 71.4L-57.3 74" stroke-opacity="0.366"/><path d="M-57.3 74L-54.3 76.5" stroke-opacity="0.444"/><path d="M-54.3 76.5L-51.2 78.9" stroke-opacity="0.520"/><path d="M-51.2 78.9L-48.1 81.2" stroke-opacity="0.590"/><path d="M-48.1 81.2L-44.9 83.5" stroke-opacity="0.656"/><path d="M-44.9 83.5L-41.6 85.6" stroke-opacity="0.718"/><path d="M-41.6 85.6L-38.2 87.5" stroke-opacity="0.773"/><path d="M-38.2 87.5L-34.6 89.2" stroke-opacity="0.823"/><path d="M-34.6 89.2L-30.9 90.5" stroke-opacity="0.867"/><path d="M-30.9 90.5L-27.1 91.5" stroke-opacity="0.904"/><path d="M-27.1 91.5L-23.3 92.4" stroke-opacity="0.936"/><path d="M-23.3 92.4L-19.4 93.1" stroke-opacity="0.962"/><path d="M-19.4 93.1L-15.6 93.7" stroke-opacity="0.985"/><path d="M-15.6 93.7L-11.7 94.3" stroke-opacity="1.000"/><path d="M-11.7 94.3L-7.8 94.8" stroke-opacity="1.000"/><path d="M-7.8 94.8L-3.9 95.1" stroke-opacity="1.000"/><path d="M-3.9 95.1L-0 95.2" stroke-opacity="1.000"/><path d="M-0 95.2L3.9 95.1" stroke-opacity="1.000"/><path d="M3.9 95.1L7.8 94.8" stroke-opacity="1.000"/><path d="M7.8 94.8L11.7 94.3" stroke-opacity="1.000"/><path d="M11.7 94.3L15.6 93.7" stroke-opacity="1.000"/><path d="M15.6 93.7L19.4 93.1" stroke-opacity="0.985"/><path d="M19.4 93.1L23.3 92.4" stroke-opacity="0.962"/><path d="M23.3 92.4L27.1 91.5" stroke-opacity="0.936"/><path d="M27.1 91.5L30.9 90.5" stroke-opacity="0.904"/><path d="M30.9 90.5L34.6 89.2" stroke-opacity="0.867"/><path d="M34.6 89.2L38.2 87.5" stroke-opacity="0.823"/><path d="M38.2 87.5L41.6 85.6" stroke-opacity="0.773"/><path d="M41.6 85.6L44.9 83.5" stroke-opacity="0.718"/><path d="M44.9 83.5L48.1 81.2" stroke-opacity="0.656"/><path d="M48.1 81.2L51.2 78.9" stroke-opacity="0.590"/><path d="M51.2 78.9L54.3 76.5" stroke-opacity="0.520"/><path d="M54.3 76.5L57.3 74" stroke-opacity="0.444"/><path d="M57.3 74L60.3 71.4" stroke-opacity="0.366"/><path d="M60.3 71.4L63.2 68.8" stroke-opacity="0.285"/><path d="M63.2 68.8L66.1 66.2" stroke-opacity="0.203"/><path d="M66.1 66.2L69.1 63.6" stroke-opacity="0.121"/><path d="M69.1 63.6L72 61" stroke-opacity="0.040"/></g></g>
<g id="A10" filter="url(#ab3_5)"><g fill="none" stroke="#000" stroke-width="7" stroke-linecap="butt"><path d="M-25 -12L-23.9 -15.7" stroke-opacity="0.381"/><path d="M-23.9 -15.7L-22.9 -19.5" stroke-opacity="0.543"/><path d="M-22.9 -19.5L-21.5 -23.1" stroke-opacity="0.697"/><path d="M-21.5 -23.1L-19.4 -26.4" stroke-opacity="0.821"/><path d="M-19.4 -26.4L-16.8 -29.4" stroke-opacity="0.905"/><path d="M-16.8 -29.4L-14 -32.1" stroke-opacity="0.962"/><path d="M-14 -32.1L-11 -34.5" stroke-opacity="1.000"/><path d="M-11 -34.5L-7.6 -36.4" stroke-opacity="1.000"/><path d="M-7.6 -36.4L-3.9 -37.6" stroke-opacity="1.000"/><path d="M-3.9 -37.6L0 -38" stroke-opacity="1.000"/><path d="M0 -38L3.9 -37.6" stroke-opacity="1.000"/><path d="M3.9 -37.6L7.6 -36.4" stroke-opacity="1.000"/><path d="M7.6 -36.4L11 -34.5" stroke-opacity="1.000"/><path d="M11 -34.5L14 -32.1" stroke-opacity="1.000"/><path d="M14 -32.1L16.8 -29.4" stroke-opacity="0.962"/><path d="M16.8 -29.4L19.4 -26.4" stroke-opacity="0.905"/><path d="M19.4 -26.4L21.5 -23.1" stroke-opacity="0.821"/><path d="M21.5 -23.1L22.9 -19.5" stroke-opacity="0.697"/><path d="M22.9 -19.5L23.9 -15.7" stroke-opacity="0.543"/><path d="M23.9 -15.7L25 -12" stroke-opacity="0.381"/></g></g>
<g id="A11" filter="url(#ab3_5)"><g fill="none" stroke="#000" stroke-width="8" stroke-linecap="butt"><path d="M-62 -28L-59.6 -31.1" stroke-opacity="0.079"/><path d="M-59.6 -31.1L-57.4 -34.3" stroke-opacity="0.242"/><path d="M-57.4 -34.3L-54.8 -37.3" stroke-opacity="0.400"/><path d="M-54.8 -37.3L-51.8 -39.8" stroke-opacity="0.532"/><path d="M-51.8 -39.8L-48.5 -41.8" stroke-opacity="0.635"/><path d="M-48.5 -41.8L-45 -43.7" stroke-opacity="0.718"/><path d="M-45 -43.7L-41.5 -45.3" stroke-opacity="0.790"/><path d="M-41.5 -45.3L-37.9 -46.9" stroke-opacity="0.853"/><path d="M-37.9 -46.9L-34.2 -48.3" stroke-opacity="0.907"/><path d="M-34.2 -48.3L-30.6 -49.7" stroke-opacity="0.953"/><path d="M-30.6 -49.7L-26.8 -50.9" stroke-opacity="0.990"/><path d="M-26.8 -50.9L-23.1 -52" stroke-opacity="1.000"/><path d="M-23.1 -52L-19.3 -53" stroke-opacity="1.000"/><path d="M-19.3 -53L-15.5 -54" stroke-opacity="1.000"/><path d="M-15.5 -54L-11.7 -54.8" stroke-opacity="1.000"/><path d="M-11.7 -54.8L-7.8 -55.4" stroke-opacity="1.000"/><path d="M-7.8 -55.4L-3.9 -55.8" stroke-opacity="1.000"/><path d="M-3.9 -55.8L0 -56" stroke-opacity="1.000"/><path d="M0 -56L3.9 -55.8" stroke-opacity="1.000"/><path d="M3.9 -55.8L7.8 -55.4" stroke-opacity="1.000"/><path d="M7.8 -55.4L11.7 -54.8" stroke-opacity="1.000"/><path d="M11.7 -54.8L15.5 -54" stroke-opacity="1.000"/><path d="M15.5 -54L19.3 -53" stroke-opacity="1.000"/><path d="M19.3 -53L23.1 -52" stroke-opacity="1.000"/><path d="M23.1 -52L26.8 -50.9" stroke-opacity="1.000"/><path d="M26.8 -50.9L30.6 -49.7" stroke-opacity="0.990"/><path d="M30.6 -49.7L34.2 -48.3" stroke-opacity="0.953"/><path d="M34.2 -48.3L37.9 -46.9" stroke-opacity="0.907"/><path d="M37.9 -46.9L41.5 -45.3" stroke-opacity="0.853"/><path d="M41.5 -45.3L45 -43.7" stroke-opacity="0.790"/><path d="M45 -43.7L48.5 -41.8" stroke-opacity="0.718"/><path d="M48.5 -41.8L51.8 -39.8" stroke-opacity="0.635"/><path d="M51.8 -39.8L54.8 -37.3" stroke-opacity="0.532"/><path d="M54.8 -37.3L57.4 -34.3" stroke-opacity="0.400"/><path d="M57.4 -34.3L59.6 -31.1" stroke-opacity="0.242"/><path d="M59.6 -31.1L62 -28" stroke-opacity="0.079"/></g></g>
<filter id="cm1" filterUnits="userSpaceOnUse" x="584.4" y="51.3" width="379.8" height="380.1" color-interpolation-filters="sRGB"><feColorMatrix in="SourceAlpha" type="matrix" values="0 0 0 1 0 0 0 0 1 0 0 0 0 1 0 0 0 0 0 1"/><feComponentTransfer><feFuncR type="table" tableValues="1.000 0.981 0.960 0.934 0.909 0.877 0.845 0.813 0.776 0.737 0.698 0.656 0.611 0.566 0.521 0.470 0.420 0.362 0.294 0.228 0.168 0.112 0.072 0.036 0.016 0.007 0.046 0.086 0.125 0.200 0.417 0.619 0.763 0.907 0.922 0.922 0.922 0.922 0.922 0.922 0.922 0.922 0.922 0.922 0.922 0.922 0.922 0.922 0.922"/><feFuncG type="table" tableValues="1.000 0.964 0.928 0.891 0.854 0.809 0.764 0.719 0.672 0.625 0.577 0.525 0.466 0.406 0.347 0.280 0.213 0.150 0.091 0.037 0.017 0.006 0.045 0.100 0.239 0.385 0.573 0.740 0.819 0.890 0.930 0.963 0.971 0.980 0.980 0.980 0.980 0.980 0.980 0.980 0.980 0.980 0.980 0.980 0.980 0.980 0.980 0.980 0.980"/><feFuncB type="table" tableValues="1.000 0.993 0.983 0.968 0.953 0.938 0.924 0.910 0.892 0.873 0.854 0.835 0.816 0.798 0.778 0.753 0.728 0.697 0.660 0.622 0.583 0.573 0.741 0.890 0.940 0.977 0.957 0.886 0.590 0.325 0.187 0.071 0.037 0.004 0.000 0.000 0.000 0.000 0.000 0.000 0.000 0.000 0.000 0.000 0.000 0.000 0.000 0.000 0.000"/></feComponentTransfer></filter>
<filter id="cm2" filterUnits="userSpaceOnUse" x="980.3" y="51.3" width="380.2" height="380.1" color-interpolation-filters="sRGB"><feColorMatrix in="SourceAlpha" type="matrix" values="0 0 0 1 0 0 0 0 1 0 0 0 0 1 0 0 0 0 0 1"/><feComponentTransfer><feFuncR type="table" tableValues="1.000 0.981 0.960 0.934 0.909 0.877 0.845 0.813 0.776 0.737 0.698 0.656 0.611 0.566 0.521 0.470 0.420 0.362 0.294 0.228 0.168 0.112 0.072 0.036 0.016 0.007 0.046 0.086 0.125 0.200 0.417 0.619 0.763 0.907 0.922 0.922 0.922 0.922 0.922 0.922 0.922 0.922 0.922 0.922 0.922 0.922 0.922 0.922 0.922"/><feFuncG type="table" tableValues="1.000 0.964 0.928 0.891 0.854 0.809 0.764 0.719 0.672 0.625 0.577 0.525 0.466 0.406 0.347 0.280 0.213 0.150 0.091 0.037 0.017 0.006 0.045 0.100 0.239 0.385 0.573 0.740 0.819 0.890 0.930 0.963 0.971 0.980 0.980 0.980 0.980 0.980 0.980 0.980 0.980 0.980 0.980 0.980 0.980 0.980 0.980 0.980 0.980"/><feFuncB type="table" tableValues="1.000 0.993 0.983 0.968 0.953 0.938 0.924 0.910 0.892 0.873 0.854 0.835 0.816 0.798 0.778 0.753 0.728 0.697 0.660 0.622 0.583 0.573 0.741 0.890 0.940 0.977 0.957 0.886 0.590 0.325 0.187 0.071 0.037 0.004 0.000 0.000 0.000 0.000 0.000 0.000 0.000 0.000 0.000 0.000 0.000 0.000 0.000 0.000 0.000"/></feComponentTransfer></filter>
<filter id="cm3" filterUnits="userSpaceOnUse" x="1376.2" y="51.3" width="380.4" height="380.1" color-interpolation-filters="sRGB"><feColorMatrix in="SourceAlpha" type="matrix" values="0 0 0 1 0 0 0 0 1 0 0 0 0 1 0 0 0 0 0 1"/><feComponentTransfer><feFuncR type="table" tableValues="1.000 0.981 0.960 0.934 0.909 0.877 0.845 0.813 0.776 0.737 0.698 0.656 0.611 0.566 0.521 0.470 0.420 0.362 0.294 0.228 0.168 0.112 0.072 0.036 0.016 0.007 0.046 0.086 0.125 0.200 0.417 0.619 0.763 0.907 0.922 0.922 0.922 0.922 0.922 0.922 0.922 0.922 0.922 0.922 0.922 0.922 0.922 0.922 0.922"/><feFuncG type="table" tableValues="1.000 0.964 0.928 0.891 0.854 0.809 0.764 0.719 0.672 0.625 0.577 0.525 0.466 0.406 0.347 0.280 0.213 0.150 0.091 0.037 0.017 0.006 0.045 0.100 0.239 0.385 0.573 0.740 0.819 0.890 0.930 0.963 0.971 0.980 0.980 0.980 0.980 0.980 0.980 0.980 0.980 0.980 0.980 0.980 0.980 0.980 0.980 0.980 0.980"/><feFuncB type="table" tableValues="1.000 0.993 0.983 0.968 0.953 0.938 0.924 0.910 0.892 0.873 0.854 0.835 0.816 0.798 0.778 0.753 0.728 0.697 0.660 0.622 0.583 0.573 0.741 0.890 0.940 0.977 0.957 0.886 0.590 0.325 0.187 0.071 0.037 0.004 0.000 0.000 0.000 0.000 0.000 0.000 0.000 0.000 0.000 0.000 0.000 0.000 0.000 0.000 0.000"/></feComponentTransfer></filter>
<filter id="cm4" filterUnits="userSpaceOnUse" x="1772.6" y="51.3" width="379.8" height="380.1" color-interpolation-filters="sRGB"><feColorMatrix in="SourceAlpha" type="matrix" values="0 0 0 1 0 0 0 0 1 0 0 0 0 1 0 0 0 0 0 1"/><feComponentTransfer><feFuncR type="table" tableValues="1.000 0.981 0.960 0.934 0.909 0.877 0.845 0.813 0.776 0.737 0.698 0.656 0.611 0.566 0.521 0.470 0.420 0.362 0.294 0.228 0.168 0.112 0.072 0.036 0.016 0.007 0.046 0.086 0.125 0.200 0.417 0.619 0.763 0.907 0.922 0.922 0.922 0.922 0.922 0.922 0.922 0.922 0.922 0.922 0.922 0.922 0.922 0.922 0.922"/><feFuncG type="table" tableValues="1.000 0.964 0.928 0.891 0.854 0.809 0.764 0.719 0.672 0.625 0.577 0.525 0.466 0.406 0.347 0.280 0.213 0.150 0.091 0.037 0.017 0.006 0.045 0.100 0.239 0.385 0.573 0.740 0.819 0.890 0.930 0.963 0.971 0.980 0.980 0.980 0.980 0.980 0.980 0.980 0.980 0.980 0.980 0.980 0.980 0.980 0.980 0.980 0.980"/><feFuncB type="table" tableValues="1.000 0.993 0.983 0.968 0.953 0.938 0.924 0.910 0.892 0.873 0.854 0.835 0.816 0.798 0.778 0.753 0.728 0.697 0.660 0.622 0.583 0.573 0.741 0.890 0.940 0.977 0.957 0.886 0.590 0.325 0.187 0.071 0.037 0.004 0.000 0.000 0.000 0.000 0.000 0.000 0.000 0.000 0.000 0.000 0.000 0.000 0.000 0.000 0.000"/></feComponentTransfer></filter>
<filter id="cmA" filterUnits="userSpaceOnUse" x="85.4" y="51.3" width="380.4" height="380.1" color-interpolation-filters="sRGB"><feColorMatrix in="SourceAlpha" type="matrix" values="0 0 0 1 0 0 0 0 1 0 0 0 0 1 0 0 0 0 0 1"/><feComponentTransfer><feFuncR type="table" tableValues="1.000 0.987 0.974 0.958 0.941 0.923 0.905 0.882 0.860 0.838 0.816 0.792 0.765 0.738 0.711 0.684 0.655 0.624 0.593 0.562 0.530 0.496 0.462 0.427 0.392 0.345 0.299 0.252 0.209 0.168 0.127 0.097 0.070 0.042 0.027 0.014 0.000 0.027 0.054 0.082 0.109 0.136 0.193 0.343 0.492 0.624 0.723 0.822 0.922"/><feFuncG type="table" tableValues="1.000 0.975 0.951 0.926 0.900 0.874 0.847 0.816 0.785 0.754 0.723 0.692 0.659 0.626 0.593 0.561 0.523 0.482 0.441 0.400 0.359 0.314 0.268 0.222 0.176 0.136 0.095 0.054 0.031 0.017 0.003 0.021 0.048 0.075 0.162 0.258 0.353 0.482 0.612 0.732 0.786 0.841 0.889 0.916 0.943 0.963 0.969 0.975 0.980"/><feFuncB type="table" tableValues="1.000 0.995 0.990 0.982 0.971 0.961 0.951 0.941 0.931 0.921 0.911 0.900 0.887 0.874 0.861 0.848 0.835 0.822 0.809 0.796 0.782 0.766 0.748 0.731 0.714 0.688 0.662 0.637 0.610 0.583 0.556 0.637 0.753 0.868 0.912 0.946 0.980 0.967 0.953 0.917 0.712 0.508 0.330 0.235 0.139 0.070 0.047 0.023 0.000"/></feComponentTransfer></filter>
<filter id="bl2" filterUnits="userSpaceOnUse" x="0" y="0" width="2162" height="984"><feGaussianBlur stdDeviation="2"/></filter>
<filter id="bl3" filterUnits="userSpaceOnUse" x="0" y="0" width="2162" height="984"><feGaussianBlur stdDeviation="3"/></filter>
<filter id="bl4" filterUnits="userSpaceOnUse" x="0" y="0" width="2162" height="984"><feGaussianBlur stdDeviation="4"/></filter>
<filter id="bl5" filterUnits="userSpaceOnUse" x="0" y="0" width="2162" height="984"><feGaussianBlur stdDeviation="5"/></filter>
<filter id="bl6" filterUnits="userSpaceOnUse" x="0" y="0" width="2162" height="984"><feGaussianBlur stdDeviation="6"/></filter>
<filter id="bl7" filterUnits="userSpaceOnUse" x="0" y="0" width="2162" height="984"><feGaussianBlur stdDeviation="7"/></filter>
<filter id="bl8" filterUnits="userSpaceOnUse" x="0" y="0" width="2162" height="984"><feGaussianBlur stdDeviation="8"/></filter>
<filter id="bl9" filterUnits="userSpaceOnUse" x="0" y="0" width="2162" height="984"><feGaussianBlur stdDeviation="9"/></filter>
<filter id="bl10" filterUnits="userSpaceOnUse" x="0" y="0" width="2162" height="984"><feGaussianBlur stdDeviation="10"/></filter>
<filter id="bl12" filterUnits="userSpaceOnUse" x="0" y="0" width="2162" height="984"><feGaussianBlur stdDeviation="12"/></filter>
<filter id="bl14" filterUnits="userSpaceOnUse" x="0" y="0" width="2162" height="984"><feGaussianBlur stdDeviation="14"/></filter>
<filter id="bl16" filterUnits="userSpaceOnUse" x="0" y="0" width="2162" height="984"><feGaussianBlur stdDeviation="16"/></filter>
<filter id="bl18" filterUnits="userSpaceOnUse" x="0" y="0" width="2162" height="984"><feGaussianBlur stdDeviation="18"/></filter>
<filter id="bl20" filterUnits="userSpaceOnUse" x="0" y="0" width="2162" height="984"><feGaussianBlur stdDeviation="20"/></filter>
<filter id="bl24" filterUnits="userSpaceOnUse" x="0" y="0" width="2162" height="984"><feGaussianBlur stdDeviation="24"/></filter>
<filter id="bl30" filterUnits="userSpaceOnUse" x="0" y="0" width="2162" height="984"><feGaussianBlur stdDeviation="30"/></filter>
</defs>
<g filter="url(#cm1)"><rect x="584.6" y="51.5" width="379.4" height="379.7" fill="#000" fill-opacity="0"/><g filter="url(#bl20)"><ellipse cx="774.4" cy="246.5" rx="108" ry="108" fill="#000" fill-opacity="0.02"/></g><g transform="translate(774.4 238.5)"><use href="#A0" opacity="0.040"/><use href="#A1L" opacity="0.300"/><use href="#A1R" opacity="0.300"/><use href="#A5L" opacity="0.300"/><use href="#A5R" opacity="0.300"/><use href="#A3" opacity="0.440"/><use href="#A4" opacity="0.050"/><use href="#A7L" opacity="0.430"/><use href="#A7R" opacity="0.430"/><use href="#A8" opacity="0.070"/><use href="#A9" opacity="0.900"/><use href="#A9c" opacity="0.520"/><use href="#A3c" opacity="0.000"/><use href="#A10" opacity="0.080"/><use href="#A11" opacity="0.060"/></g></g>
<circle cx="762.1" cy="239.0" r="4.0" fill="#f00"/>
<circle cx="786.7" cy="239.0" r="4.0" fill="#00f"/>
<g filter="url(#cm2)"><rect x="980.5" y="51.5" width="379.8" height="379.7" fill="#000" fill-opacity="0"/><g filter="url(#bl20)"><ellipse cx="1170.3" cy="246.5" rx="108" ry="108" fill="#000" fill-opacity="0.02"/></g><g transform="translate(1170.3 238.5)"><use href="#A0" opacity="0.040"/><use href="#A1L" opacity="0.310"/><use href="#A1R" opacity="0.310"/><use href="#A5L" opacity="0.310"/><use href="#A5R" opacity="0.310"/><use href="#A3" opacity="0.600"/><use href="#A4" opacity="0.050"/><use href="#A7L" opacity="0.440"/><use href="#A7R" opacity="0.440"/><use href="#A8" opacity="0.070"/><use href="#A9" opacity="0.880"/><use href="#A9c" opacity="0.500"/><use href="#A3c" opacity="0.260"/><use href="#A10" opacity="0.080"/><use href="#A11" opacity="0.060"/></g></g>
<circle cx="1158" cy="239.0" r="4.0" fill="#f00"/>
<circle cx="1182.6" cy="239.0" r="4.0" fill="#00f"/>
<g filter="url(#cm3)"><rect x="1376.4" y="51.5" width="380" height="379.7" fill="#000" fill-opacity="0"/><g filter="url(#bl20)"><ellipse cx="1566.2" cy="246.5" rx="108" ry="108" fill="#000" fill-opacity="0.02"/></g><g transform="translate(1566.2 238.5)"><use href="#A0" opacity="0.040"/><use href="#A1L" opacity="0.320"/><use href="#A1R" opacity="0.320"/><use href="#A5L" opacity="0.320"/><use href="#A5R" opacity="0.320"/><use href="#A3" opacity="0.660"/><use href="#A4" opacity="0.050"/><use href="#A7L" opacity="0.450"/><use href="#A7R" opacity="0.450"/><use href="#A8" opacity="0.070"/><use href="#A9" opacity="0.860"/><use href="#A9c" opacity="0.470"/><use href="#A3c" opacity="0.480"/><use href="#A10" opacity="0.080"/><use href="#A11" opacity="0.060"/></g></g>
<circle cx="1553.9" cy="239.0" r="4.0" fill="#f00"/>
<circle cx="1578.5" cy="239.0" r="4.0" fill="#00f"/>
<g filter="url(#cm4)"><rect x="1772.8" y="51.5" width="379.4" height="379.7" fill="#000" fill-opacity="0"/><g filter="url(#bl20)"><ellipse cx="1962.6" cy="246.5" rx="108" ry="108" fill="#000" fill-opacity="0.02"/></g><g transform="translate(1962.6 238.5)"><use href="#A0" opacity="0.040"/><use href="#A1L" opacity="0.330"/><use href="#A1R" opacity="0.330"/><use href="#A5L" opacity="0.330"/><use href="#A5R" opacity="0.330"/><use href="#A3" opacity="0.700"/><use href="#A4" opacity="0.050"/><use href="#A7L" opacity="0.400"/><use href="#A7R" opacity="0.400"/><use href="#A8" opacity="0.070"/><use href="#A9" opacity="0.460"/><use href="#A9c" opacity="0.000"/><use href="#A3c" opacity="0.640"/><use href="#A10" opacity="0.080"/><use href="#A11" opacity="0.060"/></g></g>
<circle cx="1950.3" cy="239.0" r="4.0" fill="#f00"/>
<circle cx="1974.9" cy="239.0" r="4.0" fill="#00f"/>
<g filter="url(#cmA)"><rect x="84.6" y="50.5" width="382" height="381.7" fill="#000" fill-opacity="0.008"/><g filter="url(#bl18)"><ellipse cx="266" cy="246" rx="116" ry="108" fill="#000" fill-opacity="0.120"/></g><g filter="url(#bl18)"><ellipse cx="268" cy="236" rx="90" ry="80" fill="#000" fill-opacity="0.070"/></g><g filter="url(#bl12)"><ellipse cx="266" cy="250" rx="86" ry="80" fill="none" stroke="#000" stroke-opacity="0.08" stroke-width="30"/></g><g filter="url(#bl16)"><ellipse cx="212" cy="262" rx="36" ry="64" fill="#000" fill-opacity="0.080"/></g><g filter="url(#bl16)"><ellipse cx="336" cy="250" rx="34" ry="58" fill="#000" fill-opacity="0.060"/></g><g filter="url(#bl12)"><ellipse cx="280" cy="284" rx="72" ry="50" fill="#000" fill-opacity="0.170"/></g><g filter="url(#bl8)"><ellipse cx="281" cy="288" rx="58" ry="38" fill="none" stroke="#000" stroke-opacity="0.30" stroke-width="20"/></g><g filter="url(#bl5)"><ellipse cx="281" cy="264" rx="44" ry="17" fill="#000" fill-opacity="0.400"/></g><g filter="url(#bl4)"><ellipse cx="283" cy="318" rx="42" ry="9.5" fill="#000" fill-opacity="0.480"/></g><g filter="url(#bl3)"><ellipse cx="284" cy="318" rx="30" ry="4" fill="#000" fill-opacity="0.320"/></g><g filter="url(#bl3)"><ellipse cx="281" cy="263.5" rx="34" ry="10.5" fill="#000" fill-opacity="0.620"/></g><g filter="url(#bl2)"><ellipse cx="283" cy="265" rx="26" ry="5.5" fill="#000" fill-opacity="0.720"/></g><g filter="url(#bl3)"><ellipse cx="282" cy="269" rx="22" ry="6" fill="#000" fill-opacity="0.450"/></g></g>
<circle cx="263.7" cy="239.0" r="4.0" fill="#f00"/>
<circle cx="288.4" cy="239.0" r="4.0" fill="#00f"/>
<line x1="276" y1="210" x2="276" y2="387" stroke="#111" stroke-width="1.5" stroke-dasharray="7.5 5.2"/>
<line x1="348" y1="257.5" x2="390" y2="257.5" stroke="#e8141b" stroke-width="2.6"/>
<path d="M328.4,257.5 L350.5,248.5 L350.5,266.5 Z" fill="#e8141b"/>
<line x1="338" y1="318.3" x2="379" y2="318.3" stroke="#1414d8" stroke-width="2.4" stroke-dasharray="5 3.9"/>
<path d="M317.8,318.3 L338.5,310 L338.5,326.7 Z" fill="#1414d8"/>
<text x="394.5" y="270.2" font-size="27.5" fill="#d8141c" letter-spacing="-1.8">p1</text>
<text x="383.5" y="331.2" font-size="27" fill="#1010c0">p2</text>
<defs>
<clipPath id="bc0"><rect x="84.7" y="525.6" width="385.3" height="368.1"/></clipPath>
<clipPath id="bc1"><rect x="583.8" y="525.6" width="384.3" height="368.1"/></clipPath>
<clipPath id="bc2"><rect x="979.3" y="525.6" width="384.9" height="368.1"/></clipPath>
<clipPath id="bc3"><rect x="1375.3" y="525.6" width="384.9" height="368.1"/></clipPath>
<clipPath id="bc4"><rect x="1771.4" y="525.6" width="384.8" height="368.1"/></clipPath>
</defs>
<path d="M84.7,870.3 L84.7,863.8 L85.7,863.7 L86.7,863.7 L87.7,863.6 L88.7,863.6 L89.7,863.5 L90.7,863.5 L91.7,863.4 L92.7,863.4 L93.7,863.3 L94.7,863.2 L95.7,863.2 L96.7,863.1 L97.7,863.1 L98.7,863 L99.7,863 L100.7,862.9 L101.7,862.8 L102.7,862.8 L103.7,862.7 L104.7,862.7 L105.7,862.6 L106.7,862.5 L107.7,862.5 L108.7,862.4 L109.7,862.3 L110.7,862.3 L111.7,862.2 L112.7,862.1 L113.7,862.1 L114.7,862 L115.7,861.9 L116.7,861.8 L117.7,861.8 L118.7,861.7 L119.7,861.6 L120.7,861.6 L121.7,861.5 L122.7,861.4 L123.7,861.3 L124.7,861.2 L125.7,861.2 L126.7,861.1 L127.7,861 L128.7,860.9 L129.7,860.8 L130.7,860.7 L131.7,860.6 L132.7,860.6 L133.7,860.5 L134.7,860.4 L135.7,860.3 L136.7,860.2 L137.7,860.1 L138.7,860 L139.7,859.9 L140.7,859.8 L141.7,859.7 L142.7,859.6 L143.7,859.5 L144.7,859.4 L145.7,859.3 L146.7,859.2 L147.7,859.1 L148.7,859 L149.7,858.8 L150.7,858.7 L151.7,858.6 L152.7,858.5 L153.7,858.4 L154.7,858.3 L155.7,858.1 L156.7,858 L157.7,857.9 L158.7,857.8 L159.7,857.6 L160.7,857.5 L161.7,857.4 L162.7,857.2 L163.7,857.1 L164.7,856.9 L165.7,856.8 L166.7,856.6 L167.7,856.5 L168.7,856.3 L169.7,856.2 L170.7,856 L171.7,855.9 L172.7,855.7 L173.7,855.6 L174.7,855.4 L175.7,855.2 L176.7,855 L177.7,854.9 L178.7,854.7 L179.7,854.5 L180.7,854.3 L181.7,854.1 L182.7,853.9 L183.7,853.8 L184.7,853.6 L185.7,853.4 L186.7,853.2 L187.7,852.9 L188.7,852.7 L189.7,852.5 L190.7,852.3 L191.7,852.1 L192.7,851.8 L193.7,851.6 L194.7,851.4 L195.7,851.1 L196.7,850.9 L197.7,850.6 L198.7,850.4 L199.7,850.1 L200.7,849.9 L201.7,849.6 L202.7,849.3 L203.7,849 L204.7,848.8 L205.7,848.5 L206.7,848.2 L207.7,847.9 L208.7,847.6 L209.7,847.2 L210.7,846.9 L211.7,846.6 L212.7,846.3 L213.7,845.9 L214.7,845.6 L215.7,845.2 L216.7,844.9 L217.7,844.5 L218.7,844.1 L219.7,843.7 L220.7,843.3 L221.7,842.9 L222.7,842.5 L223.7,842.1 L224.7,841.7 L225.7,841.2 L226.7,840.8 L227.7,840.3 L228.7,839.8 L229.7,839.4 L230.7,838.9 L231.7,838.4 L232.7,837.8 L233.7,837.3 L234.7,836.8 L235.7,836.2 L236.7,835.7 L237.7,835.1 L238.7,834.5 L239.7,833.9 L240.7,833.2 L241.7,832.6 L242.7,832 L243.7,831.3 L244.7,830.6 L245.7,829.9 L246.7,829.2 L247.7,828.4 L248.7,827.7 L249.7,826.9 L250.7,826.1 L251.7,825.3 L252.7,824.4 L253.7,823.6 L254.7,822.7 L255.7,821.8 L256.7,820.8 L257.7,819.9 L258.7,818.9 L259.7,817.9 L260.7,816.8 L261.7,815.7 L262.7,814.6 L263.7,813.5 L264.7,812.3 L265.7,811.1 L266.7,809.9 L267.7,808.6 L268.7,807.3 L269.7,806 L270.7,804.6 L271.7,803.2 L272.7,801.7 L273.7,800.2 L274.7,798.6 L275.7,797 L276.7,795.4 L277.7,793.7 L278.7,791.9 L279.7,790.1 L280.7,788.3 L281.7,786.4 L282.7,784.4 L283.7,782.4 L284.7,780.3 L285.7,778.1 L286.7,775.9 L287.7,773.6 L288.7,771.2 L289.7,768.8 L290.7,766.3 L291.7,763.7 L292.7,761 L293.7,758.3 L294.7,755.4 L295.7,752.5 L296.7,749.5 L297.7,746.4 L298.7,743.2 L299.7,740 L300.7,736.6 L301.7,733.1 L302.7,729.6 L303.7,725.9 L304.7,722.2 L305.7,718.3 L306.7,714.4 L307.7,710.3 L308.7,706.2 L309.7,702 L310.7,697.7 L311.7,693.3 L312.7,688.8 L313.7,684.2 L314.7,679.6 L315.7,674.9 L316.7,670.1 L317.7,665.3 L318.7,660.5 L319.7,655.6 L320.7,650.7 L321.7,645.8 L322.7,640.9 L323.7,636.1 L324.7,631.3 L325.7,626.5 L326.7,621.9 L327.7,617.3 L328.7,612.9 L329.7,608.6 L330.7,604.5 L331.7,600.6 L332.7,596.9 L333.7,593.4 L334.7,590.2 L335.7,587.3 L336.7,584.7 L337.7,582.4 L338.7,580.5 L339.7,578.9 L340.7,577.7 L341.7,576.9 L342.7,576.4 L343.7,576.3 L344.7,576.6 L345.7,577.3 L346.7,578.4 L347.7,579.8 L348.7,581.6 L349.7,583.8 L350.7,586.3 L351.7,589 L352.7,592.1 L353.7,595.5 L354.7,599.1 L355.7,602.9 L356.7,606.9 L357.7,611.1 L358.7,615.5 L359.7,620 L360.7,624.6 L361.7,629.4 L362.7,634.1 L363.7,639 L364.7,643.8 L365.7,648.7 L366.7,653.6 L367.7,658.5 L368.7,663.4 L369.7,668.2 L370.7,673 L371.7,677.7 L372.7,682.4 L373.7,687 L374.7,691.5 L375.7,695.9 L376.7,700.3 L377.7,704.5 L378.7,708.7 L379.7,712.8 L380.7,716.8 L381.7,720.6 L382.7,724.4 L383.7,728.1 L384.7,731.7 L385.7,735.2 L386.7,738.6 L387.7,741.9 L388.7,745.1 L389.7,748.3 L390.7,751.3 L391.7,754.3 L392.7,757.1 L393.7,759.9 L394.7,762.6 L395.7,765.2 L396.7,767.8 L397.7,770.2 L398.7,772.6 L399.7,775 L400.7,777.2 L401.7,779.4 L402.7,781.5 L403.7,783.6 L404.7,785.6 L405.7,787.5 L406.7,789.4 L407.7,791.2 L408.7,793 L409.7,794.7 L410.7,796.4 L411.7,798 L412.7,799.6 L413.7,801.1 L414.7,802.6 L415.7,804 L416.7,805.4 L417.7,806.8 L418.7,808.1 L419.7,809.4 L420.7,810.6 L421.7,811.9 L422.7,813 L423.7,814.2 L424.7,815.3 L425.7,816.4 L426.7,817.4 L427.7,818.5 L428.7,819.5 L429.7,820.4 L430.7,821.4 L431.7,822.3 L432.7,823.2 L433.7,824.1 L434.7,824.9 L435.7,825.8 L436.7,826.6 L437.7,827.4 L438.7,828.1 L439.7,828.9 L440.7,829.6 L441.7,830.3 L442.7,831 L443.7,831.7 L444.7,832.3 L445.7,833 L446.7,833.6 L447.7,834.2 L448.7,834.8 L449.7,835.4 L450.7,836 L451.7,836.6 L452.7,837.1 L453.7,837.6 L454.7,838.1 L455.7,838.7 L456.7,839.2 L457.7,839.6 L458.7,840.1 L459.7,840.6 L460.7,841 L461.7,841.5 L462.7,841.9 L463.7,842.3 L464.7,842.8 L465.7,843.2 L466.7,843.6 L467.7,844 L468.7,844.3 L469.7,844.7 L469.7,870.3 Z" fill="rgba(255,0,0,0.4)" clip-path="url(#bc0)"/>
<path d="M84.7,870.3 L84.7,862.8 L85.7,862.7 L86.7,862.6 L87.7,862.5 L88.7,862.4 L89.7,862.3 L90.7,862.1 L91.7,862 L92.7,861.9 L93.7,861.8 L94.7,861.6 L95.7,861.5 L96.7,861.4 L97.7,861.2 L98.7,861.1 L99.7,860.9 L100.7,860.8 L101.7,860.6 L102.7,860.4 L103.7,860.3 L104.7,860.1 L105.7,859.9 L106.7,859.8 L107.7,859.6 L108.7,859.4 L109.7,859.2 L110.7,859 L111.7,858.8 L112.7,858.6 L113.7,858.4 L114.7,858.1 L115.7,857.9 L116.7,857.7 L117.7,857.5 L118.7,857.2 L119.7,857 L120.7,856.7 L121.7,856.4 L122.7,856.2 L123.7,855.9 L124.7,855.6 L125.7,855.3 L126.7,855 L127.7,854.7 L128.7,854.3 L129.7,854 L130.7,853.7 L131.7,853.3 L132.7,852.9 L133.7,852.5 L134.7,852.1 L135.7,851.7 L136.7,851.3 L137.7,850.9 L138.7,850.4 L139.7,850 L140.7,849.5 L141.7,849 L142.7,848.5 L143.7,848 L144.7,847.4 L145.7,846.8 L146.7,846.2 L147.7,845.6 L148.7,845 L149.7,844.3 L150.7,843.7 L151.7,843 L152.7,842.2 L153.7,841.5 L154.7,840.7 L155.7,839.8 L156.7,839 L157.7,838.1 L158.7,837.2 L159.7,836.2 L160.7,835.2 L161.7,834.1 L162.7,833 L163.7,831.9 L164.7,830.7 L165.7,829.5 L166.7,828.2 L167.7,826.8 L168.7,825.4 L169.7,823.9 L170.7,822.4 L171.7,820.8 L172.7,819.1 L173.7,817.3 L174.7,815.5 L175.7,813.5 L176.7,811.5 L177.7,809.4 L178.7,807.2 L179.7,804.9 L180.7,802.4 L181.7,799.9 L182.7,797.2 L183.7,794.4 L184.7,791.5 L185.7,788.4 L186.7,785.2 L187.7,781.9 L188.7,778.4 L189.7,774.7 L190.7,770.9 L191.7,766.9 L192.7,762.8 L193.7,758.5 L194.7,754.1 L195.7,749.4 L196.7,744.7 L197.7,739.8 L198.7,734.8 L199.7,729.6 L200.7,724.4 L201.7,719.1 L202.7,713.7 L203.7,708.4 L204.7,703.1 L205.7,697.9 L206.7,692.7 L207.7,687.8 L208.7,683.1 L209.7,678.7 L210.7,674.6 L211.7,671 L212.7,667.8 L213.7,665.1 L214.7,663 L215.7,661.5 L216.7,660.6 L217.7,660.3 L218.7,660.7 L219.7,661.7 L220.7,663.4 L221.7,665.6 L222.7,668.4 L223.7,671.7 L224.7,675.4 L225.7,679.5 L226.7,684 L227.7,688.8 L228.7,693.8 L229.7,698.9 L230.7,704.1 L231.7,709.5 L232.7,714.8 L233.7,720.2 L234.7,725.4 L235.7,730.7 L236.7,735.8 L237.7,740.8 L238.7,745.6 L239.7,750.4 L240.7,755 L241.7,759.4 L242.7,763.6 L243.7,767.7 L244.7,771.7 L245.7,775.5 L246.7,779.1 L247.7,782.6 L248.7,785.9 L249.7,789.1 L250.7,792.1 L251.7,795 L252.7,797.8 L253.7,800.4 L254.7,802.9 L255.7,805.3 L256.7,807.6 L257.7,809.8 L258.7,811.9 L259.7,813.9 L260.7,815.9 L261.7,817.7 L262.7,819.4 L263.7,821.1 L264.7,822.7 L265.7,824.2 L266.7,825.7 L267.7,827.1 L268.7,828.4 L269.7,829.7 L270.7,830.9 L271.7,832.1 L272.7,833.3 L273.7,834.3 L274.7,835.4 L275.7,836.4 L276.7,837.3 L277.7,838.3 L278.7,839.1 L279.7,840 L280.7,840.8 L281.7,841.6 L282.7,842.4 L283.7,843.1 L284.7,843.8 L285.7,844.5 L286.7,845.1 L287.7,845.8 L288.7,846.4 L289.7,847 L290.7,847.5 L291.7,848.1 L292.7,848.6 L293.7,849.1 L294.7,849.6 L295.7,850.1 L296.7,850.5 L297.7,851 L298.7,851.4 L299.7,851.8 L300.7,852.2 L301.7,852.6 L302.7,853 L303.7,853.4 L304.7,853.7 L305.7,854.1 L306.7,854.4 L307.7,854.7 L308.7,855 L309.7,855.3 L310.7,855.6 L311.7,855.9 L312.7,856.2 L313.7,856.5 L314.7,856.8 L315.7,857 L316.7,857.3 L317.7,857.5 L318.7,857.7 L319.7,858 L320.7,858.2 L321.7,858.4 L322.7,858.6 L323.7,858.8 L324.7,859 L325.7,859.2 L326.7,859.4 L327.7,859.6 L328.7,859.8 L329.7,860 L330.7,860.1 L331.7,860.3 L332.7,860.5 L333.7,860.6 L334.7,860.8 L335.7,860.9 L336.7,861.1 L337.7,861.2 L338.7,861.4 L339.7,861.5 L340.7,861.7 L341.7,861.8 L342.7,861.9 L343.7,862 L344.7,862.2 L345.7,862.3 L346.7,862.4 L347.7,862.5 L348.7,862.6 L349.7,862.8 L350.7,862.9 L351.7,863 L352.7,863.1 L353.7,863.2 L354.7,863.3 L355.7,863.4 L356.7,863.5 L357.7,863.6 L358.7,863.7 L359.7,863.7 L360.7,863.8 L361.7,863.9 L362.7,864 L363.7,864.1 L364.7,864.2 L365.7,864.3 L366.7,864.3 L367.7,864.4 L368.7,864.5 L369.7,864.6 L370.7,864.6 L371.7,864.7 L372.7,864.8 L373.7,864.8 L374.7,864.9 L375.7,865 L376.7,865 L377.7,865.1 L378.7,865.2 L379.7,865.2 L380.7,865.3 L381.7,865.3 L382.7,865.4 L383.7,865.5 L384.7,865.5 L385.7,865.6 L386.7,865.6 L387.7,865.7 L388.7,865.7 L389.7,865.8 L390.7,865.8 L391.7,865.9 L392.7,865.9 L393.7,866 L394.7,866 L395.7,866.1 L396.7,866.1 L397.7,866.2 L398.7,866.2 L399.7,866.3 L400.7,866.3 L401.7,866.3 L402.7,866.4 L403.7,866.4 L404.7,866.5 L405.7,866.5 L406.7,866.5 L407.7,866.6 L408.7,866.6 L409.7,866.7 L410.7,866.7 L411.7,866.7 L412.7,866.8 L413.7,866.8 L414.7,866.8 L415.7,866.9 L416.7,866.9 L417.7,866.9 L418.7,867 L419.7,867 L420.7,867 L421.7,867.1 L422.7,867.1 L423.7,867.1 L424.7,867.2 L425.7,867.2 L426.7,867.2 L427.7,867.3 L428.7,867.3 L429.7,867.3 L430.7,867.3 L431.7,867.4 L432.7,867.4 L433.7,867.4 L434.7,867.4 L435.7,867.5 L436.7,867.5 L437.7,867.5 L438.7,867.5 L439.7,867.6 L440.7,867.6 L441.7,867.6 L442.7,867.6 L443.7,867.7 L444.7,867.7 L445.7,867.7 L446.7,867.7 L447.7,867.8 L448.7,867.8 L449.7,867.8 L450.7,867.8 L451.7,867.8 L452.7,867.9 L453.7,867.9 L454.7,867.9 L455.7,867.9 L456.7,867.9 L457.7,868 L458.7,868 L459.7,868 L460.7,868 L461.7,868 L462.7,868.1 L463.7,868.1 L464.7,868.1 L465.7,868.1 L466.7,868.1 L467.7,868.1 L468.7,868.2 L469.7,868.2 L469.7,870.3 Z" fill="rgba(0,0,255,0.4)" clip-path="url(#bc0)"/>
<g fill="#fff" stroke="#7a7a7a" stroke-width="1.1"><circle cx="85.4" cy="862.2" r="2.9"/><circle cx="90.3" cy="862" r="2.9"/><circle cx="95.3" cy="861.7" r="2.9"/><circle cx="100.2" cy="861.4" r="2.9"/><circle cx="105.2" cy="860.9" r="2.9"/><circle cx="110.1" cy="860.2" r="2.9"/><circle cx="115" cy="859.6" r="2.9"/><circle cx="120" cy="859" r="2.9"/><circle cx="124.9" cy="858.2" r="2.9"/><circle cx="129.9" cy="857.2" r="2.9"/><circle cx="134.8" cy="855.8" r="2.9"/><circle cx="139.7" cy="853.9" r="2.9"/><circle cx="144.7" cy="851.5" r="2.9"/><circle cx="149.6" cy="848.3" r="2.9"/><circle cx="154.6" cy="844.5" r="2.9"/><circle cx="159.5" cy="839.2" r="2.9"/><circle cx="164.4" cy="833.1" r="2.9"/><circle cx="169.4" cy="824.7" r="2.9"/><circle cx="174.3" cy="811.9" r="2.9"/><circle cx="179.3" cy="799.7" r="2.9"/><circle cx="184.2" cy="779.4" r="2.9"/><circle cx="189.1" cy="750.4" r="2.9"/><circle cx="194.1" cy="727.7" r="2.9"/><circle cx="199" cy="702.4" r="2.9"/><circle cx="204" cy="679.7" r="2.9"/><circle cx="208.9" cy="656.4" r="2.9"/><circle cx="213.8" cy="648.9" r="2.9"/><circle cx="218.8" cy="644.5" r="2.9"/><circle cx="223.7" cy="652.7" r="2.9"/><circle cx="228.7" cy="663.3" r="2.9"/><circle cx="233.6" cy="679.9" r="2.9"/><circle cx="238.5" cy="696.5" r="2.9"/><circle cx="243.5" cy="716.9" r="2.9"/><circle cx="248.4" cy="735" r="2.9"/><circle cx="253.4" cy="747.5" r="2.9"/><circle cx="258.3" cy="759.4" r="2.9"/><circle cx="263.2" cy="766.6" r="2.9"/><circle cx="268.2" cy="772.2" r="2.9"/><circle cx="273.1" cy="772.2" r="2.9"/><circle cx="278.1" cy="771.6" r="2.9"/><circle cx="283" cy="768.6" r="2.9"/><circle cx="287.9" cy="765" r="2.9"/><circle cx="292.9" cy="751.1" r="2.9"/><circle cx="297.8" cy="736.9" r="2.9"/><circle cx="302.8" cy="713.8" r="2.9"/><circle cx="307.7" cy="692.6" r="2.9"/><circle cx="312.6" cy="665.2" r="2.9"/><circle cx="317.6" cy="643.3" r="2.9"/><circle cx="322.5" cy="614.5" r="2.9"/><circle cx="327.5" cy="588.2" r="2.9"/><circle cx="332.4" cy="576.9" r="2.9"/><circle cx="337.3" cy="566.9" r="2.9"/><circle cx="342.3" cy="569.6" r="2.9"/><circle cx="347.2" cy="572" r="2.9"/><circle cx="352.2" cy="586.3" r="2.9"/><circle cx="357.1" cy="601.7" r="2.9"/><circle cx="362" cy="620.8" r="2.9"/><circle cx="367" cy="636.5" r="2.9"/><circle cx="371.9" cy="659.9" r="2.9"/><circle cx="376.9" cy="679.7" r="2.9"/><circle cx="381.8" cy="699.8" r="2.9"/><circle cx="386.7" cy="717.8" r="2.9"/><circle cx="391.7" cy="733.4" r="2.9"/><circle cx="396.6" cy="747.4" r="2.9"/><circle cx="401.6" cy="760" r="2.9"/><circle cx="406.5" cy="771.7" r="2.9"/><circle cx="411.4" cy="780.8" r="2.9"/><circle cx="416.4" cy="787.5" r="2.9"/><circle cx="421.3" cy="792.6" r="2.9"/><circle cx="426.3" cy="798.3" r="2.9"/><circle cx="431.2" cy="802.2" r="2.9"/><circle cx="436.1" cy="806.4" r="2.9"/><circle cx="441.1" cy="810.7" r="2.9"/><circle cx="446" cy="814.3" r="2.9"/><circle cx="451" cy="817.3" r="2.9"/><circle cx="455.9" cy="819.6" r="2.9"/><circle cx="460.8" cy="822.2" r="2.9"/><circle cx="465.8" cy="824.6" r="2.9"/></g>
<path d="M85,856.2 L102,853 L119.6,849.3 L132,845.5 L143.7,840.6 L153,834.5 L161,825 L168,816 L174.8,806 L185.2,775 L199,726.6 L207.7,678.2 L212.9,645.4 L223.2,646.1 L233.6,692 L247.4,733.5 L257.8,759.4 L266.4,766.3 L275.2,764.6 L287.3,749 L295.9,730 L304.6,705.9 L313.2,667.9 L321.8,629.8 L328.7,595.3 L338.4,564.9 L351.2,574.6 L358.1,598.7 L366.8,629.8 L377.1,671.3 L387.5,709.3 L399.6,743.9 L411.7,775 L429,797.4 L449.7,813 L467,823.3" fill="none" stroke="#000" stroke-width="1.3" stroke-linejoin="round"/>
<line x1="84.7" y1="660.4" x2="227" y2="660.4" stroke="#3a3aa8" stroke-width="1.7" stroke-dasharray="9.4 9.1"/>
<line x1="340.8" y1="575.4" x2="466" y2="575.4" stroke="#b83030" stroke-width="1.7" stroke-dasharray="9.4 9.1"/>
<text x="171" y="648.2" font-size="26.5" fill="#0a0ac8">p2</text>
<text x="292.5" y="564.2" font-size="27" fill="#d80808" letter-spacing="-1.8">p1</text>
<path d="M788.8,876.4 L788.8,876.3 L789.8,876.2 L790.8,876.1 L791.8,876 L792.8,875.8 L793.8,875.5 L794.8,875 L795.8,874.5 L796.8,873.7 L797.8,872.7 L798.8,871.3 L799.8,869.5 L800.8,867.2 L801.8,864.3 L802.8,860.7 L803.8,856.2 L804.8,850.7 L805.8,844.1 L806.8,836.2 L807.8,827 L808.8,816.4 L809.8,804.3 L810.8,790.8 L811.8,775.8 L812.8,759.6 L813.8,742.3 L814.8,724.2 L815.8,705.6 L816.8,686.9 L817.8,668.4 L818.8,650.8 L819.8,634.4 L820.8,619.7 L821.8,607.2 L822.8,597.3 L823.8,590.2 L824.8,586.3 L825.8,585.6 L826.8,588.3 L827.8,594.1 L828.8,602.9 L829.8,614.4 L830.8,628.2 L831.8,644 L832.8,661.2 L833.8,679.4 L834.8,698 L835.8,716.8 L836.8,735.1 L837.8,752.8 L838.8,769.4 L839.8,784.9 L840.8,799 L841.8,811.6 L842.8,822.8 L843.8,832.6 L844.8,841 L845.8,848.1 L846.8,854 L847.8,858.9 L848.8,862.8 L849.8,866 L850.8,868.5 L851.8,870.5 L852.8,872 L853.8,873.2 L854.8,874 L855.8,874.7 L856.8,875.1 L857.8,875.5 L858.8,875.7 L859.8,875.9 L860.8,876 L861.8,876.1 L862.8,876.2 L862.8,876.4 Z" fill="rgba(255,0,0,0.4)"/>
<path d="M659.8,876.7 L659.8,876.7 L660.8,876.7 L661.8,876.7 L662.8,876.6 L663.8,876.5 L664.8,876.4 L665.8,876.3 L666.8,876.1 L667.8,875.9 L668.8,875.5 L669.8,875.1 L670.8,874.6 L671.8,873.9 L672.8,873 L673.8,871.9 L674.8,870.6 L675.8,868.9 L676.8,867 L677.8,864.6 L678.8,861.8 L679.8,858.5 L680.8,854.7 L681.8,850.4 L682.8,845.5 L683.8,840.1 L684.8,834.1 L685.8,827.7 L686.8,820.7 L687.8,813.4 L688.8,805.8 L689.8,798.1 L690.8,790.3 L691.8,782.7 L692.8,775.3 L693.8,768.4 L694.8,762.1 L695.8,756.5 L696.8,751.9 L697.8,748.3 L698.8,745.9 L699.8,744.7 L700.8,744.7 L701.8,745.9 L702.8,748.3 L703.8,751.9 L704.8,756.5 L705.8,762.1 L706.8,768.4 L707.8,775.3 L708.8,782.6 L709.8,790.3 L710.8,798 L711.8,805.8 L712.8,813.4 L713.8,820.7 L714.8,827.6 L715.8,834 L716.8,840 L717.8,845.4 L718.8,850.3 L719.8,854.6 L720.8,858.4 L721.8,861.7 L722.8,864.5 L723.8,866.8 L724.8,868.8 L725.8,870.5 L726.8,871.8 L727.8,872.9 L728.8,873.7 L729.8,874.4 L730.8,875 L731.8,875.4 L732.8,875.7 L733.8,875.9 L734.8,876.1 L735.8,876.3 L736.8,876.4 L737.8,876.4 L738.8,876.5 L739.8,876.5 L740.8,876.5 L740.8,876.7 Z" fill="rgba(0,0,255,0.4)"/>
<g fill="#fff" stroke="#7a7a7a" stroke-width="1.1"><circle cx="584.3" cy="877" r="2.9"/><circle cx="589.1" cy="877" r="2.9"/><circle cx="594" cy="877" r="2.9"/><circle cx="598.8" cy="877" r="2.9"/><circle cx="603.6" cy="876.9" r="2.9"/><circle cx="608.5" cy="876.9" r="2.9"/><circle cx="613.3" cy="876.9" r="2.9"/><circle cx="618.1" cy="876.9" r="2.9"/><circle cx="622.9" cy="876.9" r="2.9"/><circle cx="627.8" cy="876.9" r="2.9"/><circle cx="632.6" cy="876.9" r="2.9"/><circle cx="637.4" cy="876.9" r="2.9"/><circle cx="642.3" cy="876.8" r="2.9"/><circle cx="647.1" cy="876.8" r="2.9"/><circle cx="651.9" cy="876.8" r="2.9"/><circle cx="656.8" cy="876.8" r="2.9"/><circle cx="661.6" cy="876.7" r="2.9"/><circle cx="666.4" cy="876.2" r="2.9"/><circle cx="671.2" cy="874.3" r="2.9"/><circle cx="676.1" cy="868.4" r="2.9"/><circle cx="680.9" cy="854.3" r="2.9"/><circle cx="685.7" cy="828.1" r="2.9"/><circle cx="690.6" cy="792.2" r="2.9"/><circle cx="695.4" cy="758.8" r="2.9"/><circle cx="700.2" cy="744.7" r="2.9"/><circle cx="705.1" cy="757.9" r="2.9"/><circle cx="709.9" cy="790.9" r="2.9"/><circle cx="714.7" cy="827" r="2.9"/><circle cx="719.5" cy="853.5" r="2.9"/><circle cx="724.4" cy="868" r="2.9"/><circle cx="729.2" cy="874" r="2.9"/><circle cx="734" cy="876" r="2.9"/><circle cx="738.9" cy="876.4" r="2.9"/><circle cx="743.7" cy="876" r="2.9"/><circle cx="748.5" cy="874.4" r="2.9"/><circle cx="753.4" cy="870.9" r="2.9"/><circle cx="758.2" cy="865.7" r="2.9"/><circle cx="763" cy="861.6" r="2.9"/><circle cx="767.8" cy="861.6" r="2.9"/><circle cx="772.7" cy="865.7" r="2.9"/><circle cx="777.5" cy="870.8" r="2.9"/><circle cx="782.3" cy="874.3" r="2.9"/><circle cx="787.2" cy="875.8" r="2.9"/><circle cx="792" cy="875.8" r="2.9"/><circle cx="796.8" cy="873.7" r="2.9"/><circle cx="801.7" cy="864.7" r="2.9"/><circle cx="806.5" cy="838.7" r="2.9"/><circle cx="811.3" cy="783.2" r="2.9"/><circle cx="816.1" cy="699.2" r="2.9"/><circle cx="821" cy="617.6" r="2.9"/><circle cx="825.8" cy="576.3" r="2.9"/><circle cx="830.6" cy="625.9" r="2.9"/><circle cx="835.5" cy="710.4" r="2.9"/><circle cx="840.3" cy="791.7" r="2.9"/><circle cx="845.1" cy="842.8" r="2.9"/><circle cx="850" cy="864.7" r="2.9"/><circle cx="854.8" cy="869.5" r="2.9"/><circle cx="859.6" cy="866.5" r="2.9"/><circle cx="864.4" cy="861.1" r="2.9"/><circle cx="869.3" cy="857.3" r="2.9"/><circle cx="874.1" cy="858" r="2.9"/><circle cx="878.9" cy="862.6" r="2.9"/><circle cx="883.8" cy="868.4" r="2.9"/><circle cx="888.6" cy="872.7" r="2.9"/><circle cx="893.4" cy="875" r="2.9"/><circle cx="898.3" cy="875.9" r="2.9"/><circle cx="903.1" cy="876.1" r="2.9"/><circle cx="907.9" cy="876.1" r="2.9"/><circle cx="912.7" cy="876.1" r="2.9"/><circle cx="917.6" cy="876.1" r="2.9"/><circle cx="922.4" cy="876.1" r="2.9"/><circle cx="927.2" cy="876.1" r="2.9"/><circle cx="932.1" cy="876.1" r="2.9"/><circle cx="936.9" cy="876.1" r="2.9"/><circle cx="941.7" cy="876.1" r="2.9"/><circle cx="946.6" cy="876" r="2.9"/><circle cx="951.4" cy="876" r="2.9"/><circle cx="956.2" cy="876" r="2.9"/><circle cx="961" cy="876" r="2.9"/></g>
<path d="M583.8,877 L584.8,877 L585.8,877 L586.8,877 L587.8,877 L588.8,877 L589.8,877 L590.8,877 L591.8,877 L592.8,877 L593.8,877 L594.8,877 L595.8,877 L596.8,877 L597.8,877 L598.8,877 L599.8,877 L600.8,877 L601.8,877 L602.8,877 L603.8,876.9 L604.8,876.9 L605.8,876.9 L606.8,876.9 L607.8,876.9 L608.8,876.9 L609.8,876.9 L610.8,876.9 L611.8,876.9 L612.8,876.9 L613.8,876.9 L614.8,876.9 L615.8,876.9 L616.8,876.9 L617.8,876.9 L618.8,876.9 L619.8,876.9 L620.8,876.9 L621.8,876.9 L622.8,876.9 L623.8,876.9 L624.8,876.9 L625.8,876.9 L626.8,876.9 L627.8,876.9 L628.8,876.9 L629.8,876.9 L630.8,876.9 L631.8,876.9 L632.8,876.9 L633.8,876.9 L634.8,876.9 L635.8,876.9 L636.8,876.9 L637.8,876.9 L638.8,876.9 L639.8,876.9 L640.8,876.9 L641.8,876.8 L642.8,876.8 L643.8,876.8 L644.8,876.8 L645.8,876.8 L646.8,876.8 L647.8,876.8 L648.8,876.8 L649.8,876.8 L650.8,876.8 L651.8,876.8 L652.8,876.8 L653.8,876.8 L654.8,876.8 L655.8,876.8 L656.8,876.8 L657.8,876.8 L658.8,876.8 L659.8,876.7 L660.8,876.7 L661.8,876.7 L662.8,876.6 L663.8,876.5 L664.8,876.4 L665.8,876.3 L666.8,876.1 L667.8,875.9 L668.8,875.5 L669.8,875.1 L670.8,874.6 L671.8,873.9 L672.8,873 L673.8,871.9 L674.8,870.6 L675.8,868.9 L676.8,867 L677.8,864.6 L678.8,861.8 L679.8,858.5 L680.8,854.7 L681.8,850.4 L682.8,845.5 L683.8,840.1 L684.8,834.1 L685.8,827.7 L686.8,820.7 L687.8,813.4 L688.8,805.8 L689.8,798.1 L690.8,790.3 L691.8,782.7 L692.8,775.3 L693.8,768.4 L694.8,762.1 L695.8,756.5 L696.8,751.9 L697.8,748.3 L698.8,745.9 L699.8,744.7 L700.8,744.7 L701.8,745.9 L702.8,748.3 L703.8,751.9 L704.8,756.5 L705.8,762.1 L706.8,768.4 L707.8,775.3 L708.8,782.6 L709.8,790.3 L710.8,798 L711.8,805.8 L712.8,813.4 L713.8,820.7 L714.8,827.6 L715.8,834 L716.8,840 L717.8,845.4 L718.8,850.3 L719.8,854.6 L720.8,858.4 L721.8,861.7 L722.8,864.5 L723.8,866.8 L724.8,868.8 L725.8,870.5 L726.8,871.8 L727.8,872.9 L728.8,873.7 L729.8,874.4 L730.8,875 L731.8,875.4 L732.8,875.7 L733.8,875.9 L734.8,876.1 L735.8,876.2 L736.8,876.3 L737.8,876.3 L738.8,876.4 L739.8,876.3 L740.8,876.3 L741.8,876.2 L742.8,876.1 L743.8,875.9 L744.8,875.7 L745.8,875.5 L746.8,875.2 L747.8,874.7 L748.8,874.3 L749.8,873.7 L750.8,873 L751.8,872.2 L752.8,871.4 L753.8,870.4 L754.8,869.4 L755.8,868.3 L756.8,867.2 L757.8,866.1 L758.8,865.1 L759.8,864 L760.8,863.1 L761.8,862.3 L762.8,861.7 L763.8,861.3 L764.8,861 L765.8,861 L766.8,861.2 L767.8,861.6 L768.8,862.2 L769.8,862.9 L770.8,863.8 L771.8,864.8 L772.8,865.9 L773.8,867 L774.8,868.1 L775.8,869.2 L776.8,870.2 L777.8,871.1 L778.8,872 L779.8,872.8 L780.8,873.5 L781.8,874.1 L782.8,874.6 L783.8,875 L784.8,875.3 L785.8,875.6 L786.8,875.8 L787.8,875.9 L788.8,876 L789.8,876 L790.8,876 L791.8,875.9 L792.8,875.7 L793.8,875.4 L794.8,875 L795.8,874.4 L796.8,873.7 L797.8,872.6 L798.8,871.3 L799.8,869.5 L800.8,867.2 L801.8,864.3 L802.8,860.7 L803.8,856.2 L804.8,850.7 L805.8,844.1 L806.8,836.2 L807.8,827 L808.8,816.4 L809.8,804.3 L810.8,790.8 L811.8,775.8 L812.8,759.6 L813.8,742.3 L814.8,724.2 L815.8,705.6 L816.8,686.9 L817.8,668.4 L818.8,650.8 L819.8,634.4 L820.8,619.7 L821.8,607.2 L822.8,597.3 L823.8,590.2 L824.8,586.3 L825.8,585.6 L826.8,588.3 L827.8,594.1 L828.8,602.9 L829.8,614.4 L830.8,628.2 L831.8,644 L832.8,661.2 L833.8,679.4 L834.8,698 L835.8,716.7 L836.8,735.1 L837.8,752.7 L838.8,769.4 L839.8,784.8 L840.8,798.9 L841.8,811.5 L842.8,822.6 L843.8,832.3 L844.8,840.5 L845.8,847.5 L846.8,853.2 L847.8,857.9 L848.8,861.6 L849.8,864.4 L850.8,866.5 L851.8,868 L852.8,868.9 L853.8,869.4 L854.8,869.5 L855.8,869.3 L856.8,868.8 L857.8,868.2 L858.8,867.3 L859.8,866.3 L860.8,865.2 L861.8,864.1 L862.8,862.9 L863.8,861.8 L864.8,860.7 L865.8,859.7 L866.8,858.8 L867.8,858.1 L868.8,857.5 L869.8,857.2 L870.8,857 L871.8,857.1 L872.8,857.3 L873.8,857.8 L874.8,858.5 L875.8,859.3 L876.8,860.3 L877.8,861.3 L878.8,862.5 L879.8,863.7 L880.8,864.9 L881.8,866.1 L882.8,867.3 L883.8,868.4 L884.8,869.5 L885.8,870.5 L886.8,871.4 L887.8,872.2 L888.8,872.9 L889.8,873.5 L890.8,874 L891.8,874.4 L892.8,874.8 L893.8,875.1 L894.8,875.3 L895.8,875.5 L896.8,875.7 L897.8,875.8 L898.8,875.9 L899.8,876 L900.8,876 L901.8,876.1 L902.8,876.1 L903.8,876.1 L904.8,876.1 L905.8,876.1 L906.8,876.1 L907.8,876.1 L908.8,876.1 L909.8,876.1 L910.8,876.1 L911.8,876.1 L912.8,876.1 L913.8,876.1 L914.8,876.1 L915.8,876.1 L916.8,876.1 L917.8,876.1 L918.8,876.1 L919.8,876.1 L920.8,876.1 L921.8,876.1 L922.8,876.1 L923.8,876.1 L924.8,876.1 L925.8,876.1 L926.8,876.1 L927.8,876.1 L928.8,876.1 L929.8,876.1 L930.8,876.1 L931.8,876.1 L932.8,876.1 L933.8,876.1 L934.8,876.1 L935.8,876.1 L936.8,876.1 L937.8,876.1 L938.8,876.1 L939.8,876.1 L940.8,876.1 L941.8,876.1 L942.8,876.1 L943.8,876.1 L944.8,876.1 L945.8,876.1 L946.8,876 L947.8,876 L948.8,876 L949.8,876 L950.8,876 L951.8,876 L952.8,876 L953.8,876 L954.8,876 L955.8,876 L956.8,876 L957.8,876 L958.8,876 L959.8,876 L960.8,876 L961.8,876 L962.8,876 L963.8,876 L964.8,876" fill="none" stroke="#000" stroke-width="1.3" stroke-linejoin="round"/>
<path d="M1184.3,869.2 L1184.3,869.3 L1185.3,869.2 L1186.3,869.1 L1187.3,869 L1188.3,868.8 L1189.3,868.5 L1190.3,868.1 L1191.3,867.6 L1192.3,866.8 L1193.3,865.9 L1194.3,864.6 L1195.3,862.9 L1196.3,860.8 L1197.3,858.1 L1198.3,854.7 L1199.3,850.4 L1200.3,845.2 L1201.3,839 L1202.3,831.5 L1203.3,822.8 L1204.3,812.6 L1205.3,801.1 L1206.3,788.1 L1207.3,773.7 L1208.3,758.1 L1209.3,741.3 L1210.3,723.7 L1211.3,705.5 L1212.3,687.1 L1213.3,668.9 L1214.3,651.4 L1215.3,635 L1216.3,620.3 L1217.3,607.5 L1218.3,597.3 L1219.3,589.8 L1220.3,585.3 L1221.3,584 L1222.3,585.9 L1223.3,591 L1224.3,599.1 L1225.3,609.9 L1226.3,623 L1227.3,638.1 L1228.3,654.7 L1229.3,672.4 L1230.3,690.6 L1231.3,709 L1232.3,727.1 L1233.3,744.6 L1234.3,761.1 L1235.3,776.5 L1236.3,790.6 L1237.3,803.3 L1238.3,814.6 L1239.3,824.4 L1240.3,832.9 L1241.3,840.1 L1242.3,846.1 L1243.3,851.1 L1244.3,855.1 L1245.3,858.4 L1246.3,861 L1247.3,863 L1248.3,864.6 L1249.3,865.8 L1250.3,866.7 L1251.3,867.3 L1252.3,867.8 L1253.3,868.2 L1254.3,868.4 L1255.3,868.6 L1256.3,868.7 L1257.3,868.8 L1258.3,868.9 L1258.3,869.2 Z" fill="rgba(255,0,0,0.4)"/>
<path d="M1056.3,869.9 L1056.3,870.1 L1057.3,870 L1058.3,869.9 L1059.3,869.8 L1060.3,869.7 L1061.3,869.5 L1062.3,869.2 L1063.3,868.8 L1064.3,868.3 L1065.3,867.7 L1066.3,866.9 L1067.3,865.8 L1068.3,864.4 L1069.3,862.7 L1070.3,860.5 L1071.3,857.8 L1072.3,854.5 L1073.3,850.5 L1074.3,845.8 L1075.3,840.2 L1076.3,833.8 L1077.3,826.4 L1078.3,818 L1079.3,808.6 L1080.3,798.3 L1081.3,787.1 L1082.3,775.2 L1083.3,762.6 L1084.3,749.6 L1085.3,736.4 L1086.3,723.2 L1087.3,710.4 L1088.3,698.2 L1089.3,687 L1090.3,677 L1091.3,668.6 L1092.3,661.9 L1093.3,657.2 L1094.3,654.5 L1095.3,654.1 L1096.3,655.8 L1097.3,659.7 L1098.3,665.7 L1099.3,673.4 L1100.3,682.8 L1101.3,693.5 L1102.3,705.4 L1103.3,717.9 L1104.3,731 L1105.3,744.2 L1106.3,757.3 L1107.3,770.1 L1108.3,782.3 L1109.3,793.8 L1110.3,804.4 L1111.3,814.2 L1112.3,822.9 L1113.3,830.7 L1114.3,837.5 L1115.3,843.4 L1116.3,848.5 L1117.3,852.7 L1118.3,856.3 L1119.3,859.2 L1120.3,861.5 L1121.3,863.4 L1122.3,865 L1123.3,866.1 L1124.3,867.1 L1125.3,867.8 L1126.3,868.3 L1127.3,868.7 L1128.3,869 L1129.3,869.2 L1130.3,869.4 L1131.3,869.5 L1132.3,869.5 L1133.3,869.6 L1134.3,869.6 L1134.3,869.9 Z" fill="rgba(0,0,255,0.4)"/>
<g fill="#fff" stroke="#7a7a7a" stroke-width="1.1"><circle cx="979.8" cy="870.6" r="2.9"/><circle cx="984.6" cy="870.6" r="2.9"/><circle cx="989.5" cy="870.5" r="2.9"/><circle cx="994.3" cy="870.5" r="2.9"/><circle cx="999.1" cy="870.5" r="2.9"/><circle cx="1004" cy="870.5" r="2.9"/><circle cx="1008.8" cy="870.4" r="2.9"/><circle cx="1013.6" cy="870.4" r="2.9"/><circle cx="1018.4" cy="870.4" r="2.9"/><circle cx="1023.3" cy="870.3" r="2.9"/><circle cx="1028.1" cy="870.3" r="2.9"/><circle cx="1032.9" cy="870.3" r="2.9"/><circle cx="1037.8" cy="870.3" r="2.9"/><circle cx="1042.6" cy="870.2" r="2.9"/><circle cx="1047.4" cy="870.2" r="2.9"/><circle cx="1052.3" cy="870.2" r="2.9"/><circle cx="1057.1" cy="870" r="2.9"/><circle cx="1061.9" cy="869.3" r="2.9"/><circle cx="1066.7" cy="866.4" r="2.9"/><circle cx="1071.6" cy="856.9" r="2.9"/><circle cx="1076.4" cy="833" r="2.9"/><circle cx="1081.2" cy="787.9" r="2.9"/><circle cx="1086.1" cy="726.4" r="2.9"/><circle cx="1090.9" cy="672.1" r="2.9"/><circle cx="1095.7" cy="650" r="2.9"/><circle cx="1100.6" cy="685.5" r="2.9"/><circle cx="1105.4" cy="745.2" r="2.9"/><circle cx="1110.2" cy="803.5" r="2.9"/><circle cx="1115" cy="841.9" r="2.9"/><circle cx="1119.9" cy="860.5" r="2.9"/><circle cx="1124.7" cy="867.3" r="2.9"/><circle cx="1129.5" cy="869.2" r="2.9"/><circle cx="1134.4" cy="869.5" r="2.9"/><circle cx="1139.2" cy="869" r="2.9"/><circle cx="1144" cy="867.4" r="2.9"/><circle cx="1148.9" cy="863.9" r="2.9"/><circle cx="1153.7" cy="858.9" r="2.9"/><circle cx="1158.5" cy="855.2" r="2.9"/><circle cx="1163.3" cy="855.4" r="2.9"/><circle cx="1168.2" cy="859.5" r="2.9"/><circle cx="1173" cy="864.3" r="2.9"/><circle cx="1177.8" cy="867.5" r="2.9"/><circle cx="1182.7" cy="868.8" r="2.9"/><circle cx="1187.5" cy="868.8" r="2.9"/><circle cx="1192.3" cy="866.8" r="2.9"/><circle cx="1197.2" cy="858.5" r="2.9"/><circle cx="1202" cy="833.9" r="2.9"/><circle cx="1206.8" cy="780.8" r="2.9"/><circle cx="1211.6" cy="699.2" r="2.9"/><circle cx="1216.5" cy="618.1" r="2.9"/><circle cx="1221.3" cy="578.3" r="2.9"/><circle cx="1226.1" cy="620.8" r="2.9"/><circle cx="1231" cy="702.8" r="2.9"/><circle cx="1235.8" cy="783.4" r="2.9"/><circle cx="1240.6" cy="835" r="2.9"/><circle cx="1245.5" cy="857.9" r="2.9"/><circle cx="1250.3" cy="863.9" r="2.9"/><circle cx="1255.1" cy="862" r="2.9"/><circle cx="1259.9" cy="857.2" r="2.9"/><circle cx="1264.8" cy="852.6" r="2.9"/><circle cx="1269.6" cy="851.4" r="2.9"/><circle cx="1274.4" cy="854.4" r="2.9"/><circle cx="1279.3" cy="859.6" r="2.9"/><circle cx="1284.1" cy="864.2" r="2.9"/><circle cx="1288.9" cy="867.1" r="2.9"/><circle cx="1293.8" cy="868.3" r="2.9"/><circle cx="1298.6" cy="868.6" r="2.9"/><circle cx="1303.4" cy="868.7" r="2.9"/><circle cx="1308.2" cy="868.7" r="2.9"/><circle cx="1313.1" cy="868.7" r="2.9"/><circle cx="1317.9" cy="868.6" r="2.9"/><circle cx="1322.7" cy="868.6" r="2.9"/><circle cx="1327.6" cy="868.6" r="2.9"/><circle cx="1332.4" cy="868.6" r="2.9"/><circle cx="1337.2" cy="868.5" r="2.9"/><circle cx="1342.1" cy="868.5" r="2.9"/><circle cx="1346.9" cy="868.5" r="2.9"/><circle cx="1351.7" cy="868.5" r="2.9"/><circle cx="1356.5" cy="868.4" r="2.9"/><circle cx="1361.4" cy="868.4" r="2.9"/></g>
<path d="M979.3,870.6 L980.3,870.6 L981.3,870.6 L982.3,870.6 L983.3,870.6 L984.3,870.6 L985.3,870.6 L986.3,870.6 L987.3,870.6 L988.3,870.5 L989.3,870.5 L990.3,870.5 L991.3,870.5 L992.3,870.5 L993.3,870.5 L994.3,870.5 L995.3,870.5 L996.3,870.5 L997.3,870.5 L998.3,870.5 L999.3,870.5 L1000.3,870.5 L1001.3,870.5 L1002.3,870.5 L1003.3,870.5 L1004.3,870.5 L1005.3,870.5 L1006.3,870.4 L1007.3,870.4 L1008.3,870.4 L1009.3,870.4 L1010.3,870.4 L1011.3,870.4 L1012.3,870.4 L1013.3,870.4 L1014.3,870.4 L1015.3,870.4 L1016.3,870.4 L1017.3,870.4 L1018.3,870.4 L1019.3,870.4 L1020.3,870.4 L1021.3,870.4 L1022.3,870.4 L1023.3,870.3 L1024.3,870.3 L1025.3,870.3 L1026.3,870.3 L1027.3,870.3 L1028.3,870.3 L1029.3,870.3 L1030.3,870.3 L1031.3,870.3 L1032.3,870.3 L1033.3,870.3 L1034.3,870.3 L1035.3,870.3 L1036.3,870.3 L1037.3,870.3 L1038.3,870.3 L1039.3,870.3 L1040.3,870.2 L1041.3,870.2 L1042.3,870.2 L1043.3,870.2 L1044.3,870.2 L1045.3,870.2 L1046.3,870.2 L1047.3,870.2 L1048.3,870.2 L1049.3,870.2 L1050.3,870.2 L1051.3,870.2 L1052.3,870.2 L1053.3,870.1 L1054.3,870.1 L1055.3,870.1 L1056.3,870.1 L1057.3,870 L1058.3,869.9 L1059.3,869.8 L1060.3,869.7 L1061.3,869.5 L1062.3,869.2 L1063.3,868.8 L1064.3,868.3 L1065.3,867.7 L1066.3,866.9 L1067.3,865.8 L1068.3,864.4 L1069.3,862.7 L1070.3,860.5 L1071.3,857.8 L1072.3,854.5 L1073.3,850.5 L1074.3,845.8 L1075.3,840.2 L1076.3,833.8 L1077.3,826.4 L1078.3,818 L1079.3,808.6 L1080.3,798.3 L1081.3,787.1 L1082.3,775.2 L1083.3,762.6 L1084.3,749.6 L1085.3,736.4 L1086.3,723.2 L1087.3,710.4 L1088.3,698.2 L1089.3,687 L1090.3,677 L1091.3,668.6 L1092.3,661.9 L1093.3,657.2 L1094.3,654.5 L1095.3,654.1 L1096.3,655.8 L1097.3,659.7 L1098.3,665.7 L1099.3,673.4 L1100.3,682.8 L1101.3,693.5 L1102.3,705.4 L1103.3,717.9 L1104.3,731 L1105.3,744.2 L1106.3,757.3 L1107.3,770.1 L1108.3,782.3 L1109.3,793.8 L1110.3,804.4 L1111.3,814.2 L1112.3,822.9 L1113.3,830.7 L1114.3,837.5 L1115.3,843.4 L1116.3,848.5 L1117.3,852.7 L1118.3,856.3 L1119.3,859.2 L1120.3,861.5 L1121.3,863.4 L1122.3,865 L1123.3,866.1 L1124.3,867.1 L1125.3,867.8 L1126.3,868.3 L1127.3,868.7 L1128.3,869 L1129.3,869.2 L1130.3,869.3 L1131.3,869.4 L1132.3,869.5 L1133.3,869.5 L1134.3,869.5 L1135.3,869.5 L1136.3,869.4 L1137.3,869.3 L1138.3,869.2 L1139.3,869 L1140.3,868.8 L1141.3,868.5 L1142.3,868.2 L1143.3,867.8 L1144.3,867.3 L1145.3,866.7 L1146.3,866 L1147.3,865.3 L1148.3,864.4 L1149.3,863.5 L1150.3,862.5 L1151.3,861.4 L1152.3,860.4 L1153.3,859.3 L1154.3,858.3 L1155.3,857.4 L1156.3,856.5 L1157.3,855.8 L1158.3,855.2 L1159.3,854.9 L1160.3,854.7 L1161.3,854.7 L1162.3,855 L1163.3,855.4 L1164.3,856 L1165.3,856.8 L1166.3,857.7 L1167.3,858.6 L1168.3,859.7 L1169.3,860.7 L1170.3,861.8 L1171.3,862.8 L1172.3,863.7 L1173.3,864.6 L1174.3,865.4 L1175.3,866.1 L1176.3,866.8 L1177.3,867.3 L1178.3,867.7 L1179.3,868.1 L1180.3,868.4 L1181.3,868.6 L1182.3,868.8 L1183.3,868.9 L1184.3,869 L1185.3,869 L1186.3,869 L1187.3,868.9 L1188.3,868.7 L1189.3,868.4 L1190.3,868.1 L1191.3,867.5 L1192.3,866.8 L1193.3,865.9 L1194.3,864.6 L1195.3,862.9 L1196.3,860.8 L1197.3,858.1 L1198.3,854.7 L1199.3,850.4 L1200.3,845.2 L1201.3,839 L1202.3,831.5 L1203.3,822.8 L1204.3,812.6 L1205.3,801.1 L1206.3,788.1 L1207.3,773.7 L1208.3,758.1 L1209.3,741.3 L1210.3,723.7 L1211.3,705.5 L1212.3,687.1 L1213.3,668.9 L1214.3,651.4 L1215.3,635 L1216.3,620.3 L1217.3,607.5 L1218.3,597.3 L1219.3,589.8 L1220.3,585.3 L1221.3,584 L1222.3,585.9 L1223.3,591 L1224.3,599.1 L1225.3,609.9 L1226.3,623 L1227.3,638.1 L1228.3,654.7 L1229.3,672.4 L1230.3,690.6 L1231.3,709 L1232.3,727.1 L1233.3,744.6 L1234.3,761.1 L1235.3,776.5 L1236.3,790.6 L1237.3,803.2 L1238.3,814.5 L1239.3,824.3 L1240.3,832.7 L1241.3,839.8 L1242.3,845.7 L1243.3,850.6 L1244.3,854.5 L1245.3,857.5 L1246.3,859.8 L1247.3,861.6 L1248.3,862.7 L1249.3,863.5 L1250.3,863.9 L1251.3,863.9 L1252.3,863.7 L1253.3,863.3 L1254.3,862.7 L1255.3,861.9 L1256.3,861 L1257.3,860 L1258.3,859 L1259.3,857.9 L1260.3,856.8 L1261.3,855.7 L1262.3,854.7 L1263.3,853.8 L1264.3,853 L1265.3,852.3 L1266.3,851.8 L1267.3,851.4 L1268.3,851.3 L1269.3,851.4 L1270.3,851.6 L1271.3,852 L1272.3,852.6 L1273.3,853.4 L1274.3,854.3 L1275.3,855.2 L1276.3,856.3 L1277.3,857.4 L1278.3,858.5 L1279.3,859.6 L1280.3,860.7 L1281.3,861.7 L1282.3,862.7 L1283.3,863.6 L1284.3,864.4 L1285.3,865.1 L1286.3,865.8 L1287.3,866.3 L1288.3,866.8 L1289.3,867.2 L1290.3,867.5 L1291.3,867.8 L1292.3,868 L1293.3,868.2 L1294.3,868.3 L1295.3,868.4 L1296.3,868.5 L1297.3,868.6 L1298.3,868.6 L1299.3,868.7 L1300.3,868.7 L1301.3,868.7 L1302.3,868.7 L1303.3,868.7 L1304.3,868.7 L1305.3,868.7 L1306.3,868.7 L1307.3,868.7 L1308.3,868.7 L1309.3,868.7 L1310.3,868.7 L1311.3,868.7 L1312.3,868.7 L1313.3,868.7 L1314.3,868.7 L1315.3,868.7 L1316.3,868.7 L1317.3,868.7 L1318.3,868.6 L1319.3,868.6 L1320.3,868.6 L1321.3,868.6 L1322.3,868.6 L1323.3,868.6 L1324.3,868.6 L1325.3,868.6 L1326.3,868.6 L1327.3,868.6 L1328.3,868.6 L1329.3,868.6 L1330.3,868.6 L1331.3,868.6 L1332.3,868.6 L1333.3,868.6 L1334.3,868.6 L1335.3,868.5 L1336.3,868.5 L1337.3,868.5 L1338.3,868.5 L1339.3,868.5 L1340.3,868.5 L1341.3,868.5 L1342.3,868.5 L1343.3,868.5 L1344.3,868.5 L1345.3,868.5 L1346.3,868.5 L1347.3,868.5 L1348.3,868.5 L1349.3,868.5 L1350.3,868.5 L1351.3,868.5 L1352.3,868.5 L1353.3,868.4 L1354.3,868.4 L1355.3,868.4 L1356.3,868.4 L1357.3,868.4 L1358.3,868.4 L1359.3,868.4 L1360.3,868.4 L1361.3,868.4" fill="none" stroke="#000" stroke-width="1.3" stroke-linejoin="round"/>
<path d="M1580.3,871.3 L1580.3,871.2 L1581.3,871.2 L1582.3,871.1 L1583.3,870.9 L1584.3,870.7 L1585.3,870.4 L1586.3,870 L1587.3,869.5 L1588.3,868.7 L1589.3,867.8 L1590.3,866.4 L1591.3,864.7 L1592.3,862.5 L1593.3,859.7 L1594.3,856.2 L1595.3,851.8 L1596.3,846.5 L1597.3,840 L1598.3,832.3 L1599.3,823.3 L1600.3,812.9 L1601.3,800.9 L1602.3,787.5 L1603.3,772.7 L1604.3,756.6 L1605.3,739.3 L1606.3,721.1 L1607.3,702.3 L1608.3,683.3 L1609.3,664.6 L1610.3,646.5 L1611.3,629.6 L1612.3,614.4 L1613.3,601.3 L1614.3,590.7 L1615.3,583 L1616.3,578.3 L1617.3,577 L1618.3,579 L1619.3,584.2 L1620.3,592.6 L1621.3,603.7 L1622.3,617.3 L1623.3,632.9 L1624.3,650 L1625.3,668.3 L1626.3,687.1 L1627.3,706 L1628.3,724.7 L1629.3,742.7 L1630.3,759.8 L1631.3,775.7 L1632.3,790.3 L1633.3,803.4 L1634.3,815 L1635.3,825.2 L1636.3,833.9 L1637.3,841.3 L1638.3,847.6 L1639.3,852.7 L1640.3,856.9 L1641.3,860.2 L1642.3,862.9 L1643.3,865 L1644.3,866.6 L1645.3,867.9 L1646.3,868.8 L1647.3,869.5 L1648.3,870 L1649.3,870.4 L1650.3,870.6 L1651.3,870.8 L1652.3,870.9 L1653.3,871 L1654.3,871.1 L1654.3,871.3 Z" fill="rgba(255,0,0,0.4)"/>
<path d="M1451.3,871.6 L1451.3,871.5 L1452.3,871.5 L1453.3,871.4 L1454.3,871.3 L1455.3,871.2 L1456.3,871 L1457.3,870.7 L1458.3,870.3 L1459.3,869.8 L1460.3,869.1 L1461.3,868.2 L1462.3,867.1 L1463.3,865.6 L1464.3,863.8 L1465.3,861.4 L1466.3,858.5 L1467.3,854.9 L1468.3,850.5 L1469.3,845.3 L1470.3,839 L1471.3,831.7 L1472.3,823.3 L1473.3,813.6 L1474.3,802.8 L1475.3,790.7 L1476.3,777.4 L1477.3,763 L1478.3,747.7 L1479.3,731.6 L1480.3,715 L1481.3,698.2 L1482.3,681.5 L1483.3,665.2 L1484.3,649.8 L1485.3,635.6 L1486.3,623 L1487.3,612.4 L1488.3,603.9 L1489.3,598 L1490.3,594.7 L1491.3,594.1 L1492.3,596.3 L1493.3,601.2 L1494.3,608.7 L1495.3,618.5 L1496.3,630.4 L1497.3,643.9 L1498.3,658.9 L1499.3,674.9 L1500.3,691.4 L1501.3,708.2 L1502.3,725 L1503.3,741.3 L1504.3,756.9 L1505.3,771.7 L1506.3,785.4 L1507.3,798 L1508.3,809.4 L1509.3,819.5 L1510.3,828.4 L1511.3,836.2 L1512.3,842.8 L1513.3,848.4 L1514.3,853.1 L1515.3,857 L1516.3,860.2 L1517.3,862.8 L1518.3,864.8 L1519.3,866.4 L1520.3,867.7 L1521.3,868.7 L1522.3,869.4 L1523.3,870 L1524.3,870.4 L1525.3,870.7 L1526.3,870.9 L1527.3,871.1 L1528.3,871.2 L1529.3,871.3 L1530.3,871.4 L1530.3,871.6 Z" fill="rgba(0,0,255,0.4)"/>
<g fill="#fff" stroke="#7a7a7a" stroke-width="1.1"><circle cx="1375.8" cy="871.8" r="2.9"/><circle cx="1380.6" cy="871.8" r="2.9"/><circle cx="1385.5" cy="871.8" r="2.9"/><circle cx="1390.3" cy="871.8" r="2.9"/><circle cx="1395.1" cy="871.8" r="2.9"/><circle cx="1399.9" cy="871.7" r="2.9"/><circle cx="1404.8" cy="871.7" r="2.9"/><circle cx="1409.6" cy="871.7" r="2.9"/><circle cx="1414.4" cy="871.7" r="2.9"/><circle cx="1419.3" cy="871.7" r="2.9"/><circle cx="1424.1" cy="871.7" r="2.9"/><circle cx="1428.9" cy="871.7" r="2.9"/><circle cx="1433.8" cy="871.7" r="2.9"/><circle cx="1438.6" cy="871.7" r="2.9"/><circle cx="1443.4" cy="871.7" r="2.9"/><circle cx="1448.2" cy="871.6" r="2.9"/><circle cx="1453.1" cy="871.4" r="2.9"/><circle cx="1457.9" cy="870.5" r="2.9"/><circle cx="1462.7" cy="866.5" r="2.9"/><circle cx="1467.6" cy="853.7" r="2.9"/><circle cx="1472.4" cy="822.3" r="2.9"/><circle cx="1477.2" cy="764" r="2.9"/><circle cx="1482.1" cy="685.5" r="2.9"/><circle cx="1486.9" cy="616.7" r="2.9"/><circle cx="1491.7" cy="593.2" r="2.9"/><circle cx="1496.5" cy="633.8" r="2.9"/><circle cx="1501.4" cy="709.6" r="2.9"/><circle cx="1506.2" cy="784.2" r="2.9"/><circle cx="1511" cy="834.1" r="2.9"/><circle cx="1515.9" cy="858.8" r="2.9"/><circle cx="1520.7" cy="868.1" r="2.9"/><circle cx="1525.5" cy="870.8" r="2.9"/><circle cx="1530.4" cy="871.3" r="2.9"/><circle cx="1535.2" cy="871" r="2.9"/><circle cx="1540" cy="869.7" r="2.9"/><circle cx="1544.8" cy="866.3" r="2.9"/><circle cx="1549.7" cy="860.7" r="2.9"/><circle cx="1554.5" cy="855.1" r="2.9"/><circle cx="1559.3" cy="853.5" r="2.9"/><circle cx="1564.2" cy="857.2" r="2.9"/><circle cx="1569" cy="863.2" r="2.9"/><circle cx="1573.8" cy="868" r="2.9"/><circle cx="1578.7" cy="870.3" r="2.9"/><circle cx="1583.5" cy="870.7" r="2.9"/><circle cx="1588.3" cy="868.7" r="2.9"/><circle cx="1593.1" cy="860.1" r="2.9"/><circle cx="1598" cy="834.8" r="2.9"/><circle cx="1602.8" cy="780" r="2.9"/><circle cx="1607.6" cy="695.9" r="2.9"/><circle cx="1612.5" cy="612.2" r="2.9"/><circle cx="1617.3" cy="569" r="2.9"/><circle cx="1622.1" cy="615" r="2.9"/><circle cx="1627" cy="699.6" r="2.9"/><circle cx="1631.8" cy="782.8" r="2.9"/><circle cx="1636.6" cy="836.1" r="2.9"/><circle cx="1641.4" cy="859.8" r="2.9"/><circle cx="1646.3" cy="866.3" r="2.9"/><circle cx="1651.1" cy="864.6" r="2.9"/><circle cx="1655.9" cy="859.6" r="2.9"/><circle cx="1660.8" cy="854.3" r="2.9"/><circle cx="1665.6" cy="852.2" r="2.9"/><circle cx="1670.4" cy="854.7" r="2.9"/><circle cx="1675.3" cy="860.1" r="2.9"/><circle cx="1680.1" cy="865.4" r="2.9"/><circle cx="1684.9" cy="868.8" r="2.9"/><circle cx="1689.7" cy="870.4" r="2.9"/><circle cx="1694.6" cy="871" r="2.9"/><circle cx="1699.4" cy="871.1" r="2.9"/><circle cx="1704.2" cy="871.1" r="2.9"/><circle cx="1709.1" cy="871.1" r="2.9"/><circle cx="1713.9" cy="871.1" r="2.9"/><circle cx="1718.7" cy="871.1" r="2.9"/><circle cx="1723.6" cy="871.1" r="2.9"/><circle cx="1728.4" cy="871.1" r="2.9"/><circle cx="1733.2" cy="871.1" r="2.9"/><circle cx="1738" cy="871" r="2.9"/><circle cx="1742.9" cy="871" r="2.9"/><circle cx="1747.7" cy="871" r="2.9"/><circle cx="1752.5" cy="871" r="2.9"/><circle cx="1757.4" cy="871" r="2.9"/></g>
<path d="M1375.3,871.8 L1376.3,871.8 L1377.3,871.8 L1378.3,871.8 L1379.3,871.8 L1380.3,871.8 L1381.3,871.8 L1382.3,871.8 L1383.3,871.8 L1384.3,871.8 L1385.3,871.8 L1386.3,871.8 L1387.3,871.8 L1388.3,871.8 L1389.3,871.8 L1390.3,871.8 L1391.3,871.8 L1392.3,871.8 L1393.3,871.8 L1394.3,871.8 L1395.3,871.8 L1396.3,871.8 L1397.3,871.8 L1398.3,871.8 L1399.3,871.7 L1400.3,871.7 L1401.3,871.7 L1402.3,871.7 L1403.3,871.7 L1404.3,871.7 L1405.3,871.7 L1406.3,871.7 L1407.3,871.7 L1408.3,871.7 L1409.3,871.7 L1410.3,871.7 L1411.3,871.7 L1412.3,871.7 L1413.3,871.7 L1414.3,871.7 L1415.3,871.7 L1416.3,871.7 L1417.3,871.7 L1418.3,871.7 L1419.3,871.7 L1420.3,871.7 L1421.3,871.7 L1422.3,871.7 L1423.3,871.7 L1424.3,871.7 L1425.3,871.7 L1426.3,871.7 L1427.3,871.7 L1428.3,871.7 L1429.3,871.7 L1430.3,871.7 L1431.3,871.7 L1432.3,871.7 L1433.3,871.7 L1434.3,871.7 L1435.3,871.7 L1436.3,871.7 L1437.3,871.7 L1438.3,871.7 L1439.3,871.7 L1440.3,871.7 L1441.3,871.7 L1442.3,871.7 L1443.3,871.7 L1444.3,871.7 L1445.3,871.6 L1446.3,871.6 L1447.3,871.6 L1448.3,871.6 L1449.3,871.6 L1450.3,871.6 L1451.3,871.5 L1452.3,871.5 L1453.3,871.4 L1454.3,871.3 L1455.3,871.2 L1456.3,871 L1457.3,870.7 L1458.3,870.3 L1459.3,869.8 L1460.3,869.1 L1461.3,868.2 L1462.3,867.1 L1463.3,865.6 L1464.3,863.8 L1465.3,861.4 L1466.3,858.5 L1467.3,854.9 L1468.3,850.5 L1469.3,845.3 L1470.3,839 L1471.3,831.7 L1472.3,823.3 L1473.3,813.6 L1474.3,802.8 L1475.3,790.7 L1476.3,777.4 L1477.3,763 L1478.3,747.7 L1479.3,731.6 L1480.3,715 L1481.3,698.2 L1482.3,681.5 L1483.3,665.2 L1484.3,649.8 L1485.3,635.6 L1486.3,623 L1487.3,612.4 L1488.3,603.9 L1489.3,598 L1490.3,594.7 L1491.3,594.1 L1492.3,596.3 L1493.3,601.2 L1494.3,608.7 L1495.3,618.5 L1496.3,630.4 L1497.3,643.9 L1498.3,658.9 L1499.3,674.9 L1500.3,691.4 L1501.3,708.2 L1502.3,725 L1503.3,741.3 L1504.3,756.9 L1505.3,771.7 L1506.3,785.4 L1507.3,798 L1508.3,809.4 L1509.3,819.5 L1510.3,828.4 L1511.3,836.2 L1512.3,842.8 L1513.3,848.4 L1514.3,853.1 L1515.3,857 L1516.3,860.2 L1517.3,862.8 L1518.3,864.8 L1519.3,866.4 L1520.3,867.7 L1521.3,868.7 L1522.3,869.4 L1523.3,870 L1524.3,870.4 L1525.3,870.7 L1526.3,870.9 L1527.3,871.1 L1528.3,871.2 L1529.3,871.2 L1530.3,871.3 L1531.3,871.3 L1532.3,871.2 L1533.3,871.2 L1534.3,871.1 L1535.3,871 L1536.3,870.8 L1537.3,870.6 L1538.3,870.3 L1539.3,870 L1540.3,869.5 L1541.3,869 L1542.3,868.4 L1543.3,867.7 L1544.3,866.8 L1545.3,865.8 L1546.3,864.8 L1547.3,863.6 L1548.3,862.4 L1549.3,861.1 L1550.3,859.9 L1551.3,858.6 L1552.3,857.4 L1553.3,856.3 L1554.3,855.3 L1555.3,854.5 L1556.3,853.9 L1557.3,853.5 L1558.3,853.4 L1559.3,853.5 L1560.3,853.9 L1561.3,854.5 L1562.3,855.3 L1563.3,856.3 L1564.3,857.4 L1565.3,858.6 L1566.3,859.8 L1567.3,861.1 L1568.3,862.4 L1569.3,863.6 L1570.3,864.7 L1571.3,865.8 L1572.3,866.7 L1573.3,867.6 L1574.3,868.3 L1575.3,868.9 L1576.3,869.4 L1577.3,869.9 L1578.3,870.2 L1579.3,870.4 L1580.3,870.6 L1581.3,870.7 L1582.3,870.7 L1583.3,870.7 L1584.3,870.6 L1585.3,870.3 L1586.3,870 L1587.3,869.4 L1588.3,868.7 L1589.3,867.7 L1590.3,866.4 L1591.3,864.7 L1592.3,862.5 L1593.3,859.7 L1594.3,856.2 L1595.3,851.8 L1596.3,846.5 L1597.3,840 L1598.3,832.3 L1599.3,823.3 L1600.3,812.9 L1601.3,800.9 L1602.3,787.5 L1603.3,772.7 L1604.3,756.6 L1605.3,739.3 L1606.3,721.1 L1607.3,702.3 L1608.3,683.3 L1609.3,664.6 L1610.3,646.5 L1611.3,629.6 L1612.3,614.4 L1613.3,601.3 L1614.3,590.7 L1615.3,583 L1616.3,578.3 L1617.3,577 L1618.3,579 L1619.3,584.2 L1620.3,592.6 L1621.3,603.7 L1622.3,617.3 L1623.3,632.9 L1624.3,650 L1625.3,668.3 L1626.3,687.1 L1627.3,706 L1628.3,724.7 L1629.3,742.7 L1630.3,759.8 L1631.3,775.7 L1632.3,790.2 L1633.3,803.3 L1634.3,814.9 L1635.3,825 L1636.3,833.7 L1637.3,841.1 L1638.3,847.2 L1639.3,852.3 L1640.3,856.3 L1641.3,859.5 L1642.3,861.9 L1643.3,863.7 L1644.3,865 L1645.3,865.8 L1646.3,866.3 L1647.3,866.4 L1648.3,866.2 L1649.3,865.8 L1650.3,865.3 L1651.3,864.5 L1652.3,863.6 L1653.3,862.6 L1654.3,861.5 L1655.3,860.3 L1656.3,859.2 L1657.3,858 L1658.3,856.8 L1659.3,855.7 L1660.3,854.8 L1661.3,853.9 L1662.3,853.2 L1663.3,852.7 L1664.3,852.3 L1665.3,852.2 L1666.3,852.3 L1667.3,852.6 L1668.3,853.1 L1669.3,853.7 L1670.3,854.6 L1671.3,855.5 L1672.3,856.6 L1673.3,857.7 L1674.3,858.9 L1675.3,860.1 L1676.3,861.3 L1677.3,862.5 L1678.3,863.6 L1679.3,864.7 L1680.3,865.6 L1681.3,866.5 L1682.3,867.3 L1683.3,867.9 L1684.3,868.5 L1685.3,869 L1686.3,869.5 L1687.3,869.8 L1688.3,870.1 L1689.3,870.3 L1690.3,870.5 L1691.3,870.7 L1692.3,870.8 L1693.3,870.9 L1694.3,870.9 L1695.3,871 L1696.3,871 L1697.3,871.1 L1698.3,871.1 L1699.3,871.1 L1700.3,871.1 L1701.3,871.1 L1702.3,871.1 L1703.3,871.1 L1704.3,871.1 L1705.3,871.1 L1706.3,871.1 L1707.3,871.1 L1708.3,871.1 L1709.3,871.1 L1710.3,871.1 L1711.3,871.1 L1712.3,871.1 L1713.3,871.1 L1714.3,871.1 L1715.3,871.1 L1716.3,871.1 L1717.3,871.1 L1718.3,871.1 L1719.3,871.1 L1720.3,871.1 L1721.3,871.1 L1722.3,871.1 L1723.3,871.1 L1724.3,871.1 L1725.3,871.1 L1726.3,871.1 L1727.3,871.1 L1728.3,871.1 L1729.3,871.1 L1730.3,871.1 L1731.3,871.1 L1732.3,871.1 L1733.3,871.1 L1734.3,871 L1735.3,871 L1736.3,871 L1737.3,871 L1738.3,871 L1739.3,871 L1740.3,871 L1741.3,871 L1742.3,871 L1743.3,871 L1744.3,871 L1745.3,871 L1746.3,871 L1747.3,871 L1748.3,871 L1749.3,871 L1750.3,871 L1751.3,871 L1752.3,871 L1753.3,871 L1754.3,871 L1755.3,871 L1756.3,871 L1757.3,871" fill="none" stroke="#000" stroke-width="1.3" stroke-linejoin="round"/>
<path d="M1975.4,876.3 L1975.4,876.3 L1976.4,876.3 L1977.4,876.2 L1978.4,876.1 L1979.4,876 L1980.4,875.9 L1981.4,875.7 L1982.4,875.4 L1983.4,875.1 L1984.4,874.6 L1985.4,873.9 L1986.4,873.1 L1987.4,872 L1988.4,870.6 L1989.4,868.9 L1990.4,866.8 L1991.4,864.2 L1992.4,861 L1993.4,857.3 L1994.4,852.9 L1995.4,847.8 L1996.4,841.9 L1997.4,835.3 L1998.4,827.9 L1999.4,819.9 L2000.4,811.2 L2001.4,801.9 L2002.4,792.3 L2003.4,782.5 L2004.4,772.7 L2005.4,763 L2006.4,753.8 L2007.4,745.3 L2008.4,737.7 L2009.4,731.2 L2010.4,726.1 L2011.4,722.4 L2012.4,720.4 L2013.4,720.1 L2014.4,721.4 L2015.4,724.4 L2016.4,729 L2017.4,734.9 L2018.4,742.1 L2019.4,750.3 L2020.4,759.2 L2021.4,768.7 L2022.4,778.5 L2023.4,788.4 L2024.4,798.1 L2025.4,807.5 L2026.4,816.4 L2027.4,824.7 L2028.4,832.4 L2029.4,839.3 L2030.4,845.4 L2031.4,850.9 L2032.4,855.5 L2033.4,859.5 L2034.4,862.9 L2035.4,865.7 L2036.4,868 L2037.4,869.9 L2038.4,871.4 L2039.4,872.6 L2040.4,873.5 L2041.4,874.2 L2042.4,874.7 L2043.4,875.2 L2044.4,875.5 L2045.4,875.7 L2046.4,875.8 L2047.4,876 L2048.4,876 L2049.4,876.1 L2050.4,876.1 L2051.4,876.2 L2051.4,876.3 Z" fill="rgba(255,0,0,0.4)"/>
<path d="M1847.4,876.6 L1847.4,876.5 L1848.4,876.5 L1849.4,876.4 L1850.4,876.2 L1851.4,876.1 L1852.4,875.8 L1853.4,875.5 L1854.4,875.1 L1855.4,874.5 L1856.4,873.7 L1857.4,872.7 L1858.4,871.3 L1859.4,869.6 L1860.4,867.4 L1861.4,864.7 L1862.4,861.3 L1863.4,857.1 L1864.4,852 L1865.4,845.9 L1866.4,838.7 L1867.4,830.2 L1868.4,820.5 L1869.4,809.3 L1870.4,796.8 L1871.4,782.8 L1872.4,767.5 L1873.4,751 L1874.4,733.5 L1875.4,715 L1876.4,696.1 L1877.4,676.9 L1878.4,657.9 L1879.4,639.4 L1880.4,622 L1881.4,606 L1882.4,591.8 L1883.4,579.9 L1884.4,570.5 L1885.4,564 L1886.4,560.6 L1887.4,560.3 L1888.4,563.1 L1889.4,569 L1890.4,577.8 L1891.4,589.2 L1892.4,602.9 L1893.4,618.6 L1894.4,635.8 L1895.4,654.1 L1896.4,673 L1897.4,692.2 L1898.4,711.2 L1899.4,729.8 L1900.4,747.5 L1901.4,764.3 L1902.4,779.8 L1903.4,794 L1904.4,806.9 L1905.4,818.3 L1906.4,828.3 L1907.4,837 L1908.4,844.4 L1909.4,850.8 L1910.4,856 L1911.4,860.4 L1912.4,863.9 L1913.4,866.8 L1914.4,869.1 L1915.4,870.9 L1916.4,872.3 L1917.4,873.4 L1918.4,874.2 L1919.4,874.8 L1920.4,875.3 L1921.4,875.6 L1922.4,875.9 L1923.4,876.1 L1924.4,876.2 L1925.4,876.3 L1926.4,876.3 L1926.4,876.6 Z" fill="rgba(0,0,255,0.4)"/>
<g fill="#fff" stroke="#7a7a7a" stroke-width="1.1"><circle cx="1771.9" cy="876.8" r="2.9"/><circle cx="1776.7" cy="876.8" r="2.9"/><circle cx="1781.6" cy="876.8" r="2.9"/><circle cx="1786.4" cy="876.8" r="2.9"/><circle cx="1791.2" cy="876.8" r="2.9"/><circle cx="1796" cy="876.7" r="2.9"/><circle cx="1800.9" cy="876.7" r="2.9"/><circle cx="1805.7" cy="876.7" r="2.9"/><circle cx="1810.5" cy="876.7" r="2.9"/><circle cx="1815.4" cy="876.7" r="2.9"/><circle cx="1820.2" cy="876.7" r="2.9"/><circle cx="1825" cy="876.7" r="2.9"/><circle cx="1829.9" cy="876.7" r="2.9"/><circle cx="1834.7" cy="876.7" r="2.9"/><circle cx="1839.5" cy="876.7" r="2.9"/><circle cx="1844.3" cy="876.6" r="2.9"/><circle cx="1849.2" cy="876.4" r="2.9"/><circle cx="1854" cy="875.2" r="2.9"/><circle cx="1858.8" cy="870.6" r="2.9"/><circle cx="1863.7" cy="855.7" r="2.9"/><circle cx="1868.5" cy="819.4" r="2.9"/><circle cx="1873.3" cy="752.2" r="2.9"/><circle cx="1878.2" cy="662.4" r="2.9"/><circle cx="1883" cy="584.8" r="2.9"/><circle cx="1887.8" cy="558.3" r="2.9"/><circle cx="1892.6" cy="606.9" r="2.9"/><circle cx="1897.5" cy="693.7" r="2.9"/><circle cx="1902.3" cy="778.4" r="2.9"/><circle cx="1907.1" cy="834.7" r="2.9"/><circle cx="1912" cy="862.4" r="2.9"/><circle cx="1916.8" cy="872.7" r="2.9"/><circle cx="1921.6" cy="875.7" r="2.9"/><circle cx="1926.5" cy="876.3" r="2.9"/><circle cx="1931.3" cy="876.1" r="2.9"/><circle cx="1936.1" cy="875" r="2.9"/><circle cx="1940.9" cy="872.2" r="2.9"/><circle cx="1945.8" cy="867.4" r="2.9"/><circle cx="1950.6" cy="862.6" r="2.9"/><circle cx="1955.4" cy="861.1" r="2.9"/><circle cx="1960.3" cy="864.1" r="2.9"/><circle cx="1965.1" cy="869.2" r="2.9"/><circle cx="1969.9" cy="873.3" r="2.9"/><circle cx="1974.8" cy="875.4" r="2.9"/><circle cx="1979.6" cy="875.8" r="2.9"/><circle cx="1984.4" cy="874.5" r="2.9"/><circle cx="1989.2" cy="869.2" r="2.9"/><circle cx="1994.1" cy="854.3" r="2.9"/><circle cx="1998.9" cy="823.8" r="2.9"/><circle cx="2003.7" cy="779.2" r="2.9"/><circle cx="2008.6" cy="736.6" r="2.9"/><circle cx="2013.4" cy="718.2" r="2.9"/><circle cx="2018.2" cy="740.9" r="2.9"/><circle cx="2023.1" cy="785" r="2.9"/><circle cx="2027.9" cy="828.5" r="2.9"/><circle cx="2032.7" cy="856.7" r="2.9"/><circle cx="2037.5" cy="869.7" r="2.9"/><circle cx="2042.4" cy="873.3" r="2.9"/><circle cx="2047.2" cy="872.5" r="2.9"/><circle cx="2052" cy="869.8" r="2.9"/><circle cx="2056.9" cy="867.1" r="2.9"/><circle cx="2061.7" cy="866" r="2.9"/><circle cx="2066.5" cy="867.4" r="2.9"/><circle cx="2071.4" cy="870.4" r="2.9"/><circle cx="2076.2" cy="873.2" r="2.9"/><circle cx="2081" cy="875" r="2.9"/><circle cx="2085.8" cy="875.8" r="2.9"/><circle cx="2090.7" cy="876" r="2.9"/><circle cx="2095.5" cy="876.1" r="2.9"/><circle cx="2100.3" cy="876.1" r="2.9"/><circle cx="2105.2" cy="876.1" r="2.9"/><circle cx="2110" cy="876.1" r="2.9"/><circle cx="2114.8" cy="876.1" r="2.9"/><circle cx="2119.7" cy="876.1" r="2.9"/><circle cx="2124.5" cy="876.1" r="2.9"/><circle cx="2129.3" cy="876.1" r="2.9"/><circle cx="2134.1" cy="876" r="2.9"/><circle cx="2139" cy="876" r="2.9"/><circle cx="2143.8" cy="876" r="2.9"/><circle cx="2148.6" cy="876" r="2.9"/><circle cx="2153.5" cy="876" r="2.9"/></g>
<path d="M1771.4,876.8 L1772.4,876.8 L1773.4,876.8 L1774.4,876.8 L1775.4,876.8 L1776.4,876.8 L1777.4,876.8 L1778.4,876.8 L1779.4,876.8 L1780.4,876.8 L1781.4,876.8 L1782.4,876.8 L1783.4,876.8 L1784.4,876.8 L1785.4,876.8 L1786.4,876.8 L1787.4,876.8 L1788.4,876.8 L1789.4,876.8 L1790.4,876.8 L1791.4,876.8 L1792.4,876.8 L1793.4,876.8 L1794.4,876.8 L1795.4,876.7 L1796.4,876.7 L1797.4,876.7 L1798.4,876.7 L1799.4,876.7 L1800.4,876.7 L1801.4,876.7 L1802.4,876.7 L1803.4,876.7 L1804.4,876.7 L1805.4,876.7 L1806.4,876.7 L1807.4,876.7 L1808.4,876.7 L1809.4,876.7 L1810.4,876.7 L1811.4,876.7 L1812.4,876.7 L1813.4,876.7 L1814.4,876.7 L1815.4,876.7 L1816.4,876.7 L1817.4,876.7 L1818.4,876.7 L1819.4,876.7 L1820.4,876.7 L1821.4,876.7 L1822.4,876.7 L1823.4,876.7 L1824.4,876.7 L1825.4,876.7 L1826.4,876.7 L1827.4,876.7 L1828.4,876.7 L1829.4,876.7 L1830.4,876.7 L1831.4,876.7 L1832.4,876.7 L1833.4,876.7 L1834.4,876.7 L1835.4,876.7 L1836.4,876.7 L1837.4,876.7 L1838.4,876.7 L1839.4,876.7 L1840.4,876.6 L1841.4,876.6 L1842.4,876.6 L1843.4,876.6 L1844.4,876.6 L1845.4,876.6 L1846.4,876.6 L1847.4,876.5 L1848.4,876.5 L1849.4,876.4 L1850.4,876.2 L1851.4,876.1 L1852.4,875.8 L1853.4,875.5 L1854.4,875.1 L1855.4,874.5 L1856.4,873.7 L1857.4,872.7 L1858.4,871.3 L1859.4,869.6 L1860.4,867.4 L1861.4,864.7 L1862.4,861.3 L1863.4,857.1 L1864.4,852 L1865.4,845.9 L1866.4,838.7 L1867.4,830.2 L1868.4,820.5 L1869.4,809.3 L1870.4,796.8 L1871.4,782.8 L1872.4,767.5 L1873.4,751 L1874.4,733.5 L1875.4,715 L1876.4,696.1 L1877.4,676.9 L1878.4,657.9 L1879.4,639.4 L1880.4,622 L1881.4,606 L1882.4,591.8 L1883.4,579.9 L1884.4,570.5 L1885.4,564 L1886.4,560.6 L1887.4,560.3 L1888.4,563.1 L1889.4,569 L1890.4,577.8 L1891.4,589.2 L1892.4,602.9 L1893.4,618.6 L1894.4,635.8 L1895.4,654.1 L1896.4,673 L1897.4,692.2 L1898.4,711.2 L1899.4,729.8 L1900.4,747.5 L1901.4,764.3 L1902.4,779.8 L1903.4,794 L1904.4,806.9 L1905.4,818.3 L1906.4,828.3 L1907.4,837 L1908.4,844.4 L1909.4,850.8 L1910.4,856 L1911.4,860.4 L1912.4,863.9 L1913.4,866.8 L1914.4,869.1 L1915.4,870.9 L1916.4,872.3 L1917.4,873.4 L1918.4,874.2 L1919.4,874.8 L1920.4,875.3 L1921.4,875.6 L1922.4,875.9 L1923.4,876 L1924.4,876.2 L1925.4,876.2 L1926.4,876.3 L1927.4,876.3 L1928.4,876.3 L1929.4,876.2 L1930.4,876.2 L1931.4,876.1 L1932.4,875.9 L1933.4,875.8 L1934.4,875.5 L1935.4,875.3 L1936.4,874.9 L1937.4,874.5 L1938.4,873.9 L1939.4,873.3 L1940.4,872.6 L1941.4,871.8 L1942.4,870.9 L1943.4,870 L1944.4,868.9 L1945.4,867.9 L1946.4,866.8 L1947.4,865.7 L1948.4,864.6 L1949.4,863.6 L1950.4,862.8 L1951.4,862.1 L1952.4,861.5 L1953.4,861.2 L1954.4,861 L1955.4,861.1 L1956.4,861.3 L1957.4,861.8 L1958.4,862.5 L1959.4,863.3 L1960.4,864.2 L1961.4,865.2 L1962.4,866.3 L1963.4,867.4 L1964.4,868.5 L1965.4,869.5 L1966.4,870.5 L1967.4,871.4 L1968.4,872.3 L1969.4,873 L1970.4,873.6 L1971.4,874.2 L1972.4,874.6 L1973.4,875 L1974.4,875.3 L1975.4,875.5 L1976.4,875.7 L1977.4,875.8 L1978.4,875.8 L1979.4,875.8 L1980.4,875.7 L1981.4,875.6 L1982.4,875.3 L1983.4,875 L1984.4,874.5 L1985.4,873.9 L1986.4,873.1 L1987.4,872 L1988.4,870.6 L1989.4,868.9 L1990.4,866.8 L1991.4,864.2 L1992.4,861 L1993.4,857.3 L1994.4,852.9 L1995.4,847.8 L1996.4,841.9 L1997.4,835.3 L1998.4,827.9 L1999.4,819.9 L2000.4,811.2 L2001.4,801.9 L2002.4,792.3 L2003.4,782.5 L2004.4,772.7 L2005.4,763 L2006.4,753.8 L2007.4,745.3 L2008.4,737.7 L2009.4,731.2 L2010.4,726.1 L2011.4,722.4 L2012.4,720.4 L2013.4,720.1 L2014.4,721.4 L2015.4,724.4 L2016.4,729 L2017.4,734.9 L2018.4,742.1 L2019.4,750.3 L2020.4,759.2 L2021.4,768.7 L2022.4,778.5 L2023.4,788.4 L2024.4,798.1 L2025.4,807.5 L2026.4,816.4 L2027.4,824.7 L2028.4,832.4 L2029.4,839.3 L2030.4,845.4 L2031.4,850.9 L2032.4,855.5 L2033.4,859.5 L2034.4,862.9 L2035.4,865.7 L2036.4,868 L2037.4,869.9 L2038.4,871.4 L2039.4,872.6 L2040.4,873.5 L2041.4,874.2 L2042.4,874.7 L2043.4,875.2 L2044.4,875.5 L2045.4,875.7 L2046.4,875.8 L2047.4,876 L2048.4,876 L2049.4,876.1 L2050.4,876.1 L2051.4,876.2 L2052.4,876.2 L2053.4,876.2 L2054.4,876.2 L2055.4,876.2 L2056.4,876.2 L2057.4,876.2 L2058.4,876.2 L2059.4,876.2 L2060.4,876.2 L2061.4,876.2 L2062.4,876.2 L2063.4,876.2 L2064.4,876.2 L2065.4,876.2 L2066.4,876.2 L2067.4,876.2 L2068.4,876.2 L2069.4,876.2 L2070.4,876.2 L2071.4,876.2 L2072.4,876.2 L2073.4,876.2 L2074.4,876.2 L2075.4,876.2 L2076.4,876.2 L2077.4,876.2 L2078.4,876.2 L2079.4,876.2 L2080.4,876.2 L2081.4,876.2 L2082.4,876.1 L2083.4,876.1 L2084.4,876.1 L2085.4,876.1 L2086.4,876.1 L2087.4,876.1 L2088.4,876.1 L2089.4,876.1 L2090.4,876.1 L2091.4,876.1 L2092.4,876.1 L2093.4,876.1 L2094.4,876.1 L2095.4,876.1 L2096.4,876.1 L2097.4,876.1 L2098.4,876.1 L2099.4,876.1 L2100.4,876.1 L2101.4,876.1 L2102.4,876.1 L2103.4,876.1 L2104.4,876.1 L2105.4,876.1 L2106.4,876.1 L2107.4,876.1 L2108.4,876.1 L2109.4,876.1 L2110.4,876.1 L2111.4,876.1 L2112.4,876.1 L2113.4,876.1 L2114.4,876.1 L2115.4,876.1 L2116.4,876.1 L2117.4,876.1 L2118.4,876.1 L2119.4,876.1 L2120.4,876.1 L2121.4,876.1 L2122.4,876.1 L2123.4,876.1 L2124.4,876.1 L2125.4,876.1 L2126.4,876.1 L2127.4,876.1 L2128.4,876.1 L2129.4,876 L2130.4,876 L2131.4,876 L2132.4,876 L2133.4,876 L2134.4,876 L2135.4,876 L2136.4,876 L2137.4,876 L2138.4,876 L2139.4,876 L2140.4,876 L2141.4,876 L2142.4,876 L2143.4,876 L2144.4,876 L2145.4,876 L2146.4,876 L2147.4,876 L2148.4,876 L2149.4,876 L2150.4,876 L2151.4,876 L2152.4,876 L2153.4,876" fill="none" stroke="#000" stroke-width="1.3" stroke-linejoin="round"/>
<line x1="583.8" y1="660.8" x2="704.5" y2="660.8" stroke="#3a3aa8" stroke-width="1.7" stroke-dasharray="9.4 9.1"/>
<line x1="699.8" y1="660.8" x2="699.8" y2="733.5" stroke="#1c1cd0" stroke-width="1.6"/>
<path d="M694.5,733.5 L705.1,733.5 L699.8,744 Z" fill="#1c1cd0"/>
<line x1="812.4" y1="574.8" x2="969" y2="574.8" stroke="#c83030" stroke-width="1.7" stroke-dasharray="9.4 9.1"/>
<line x1="979.3" y1="660.8" x2="1097.4" y2="660.8" stroke="#3a3aa8" stroke-width="1.7" stroke-dasharray="9.4 9.1"/>
<line x1="1206.7" y1="574.8" x2="1361" y2="574.8" stroke="#c83030" stroke-width="1.7" stroke-dasharray="9.4 9.1"/>
<line x1="1375.3" y1="660.6" x2="1480" y2="664.4" stroke="#3a3aa8" stroke-width="1.7" stroke-dasharray="9.4 9.1"/>
<line x1="1479" y1="664.4" x2="1491.7" y2="664.4" stroke="#1c1cd0" stroke-width="1.5"/>
<line x1="1491.7" y1="664.4" x2="1491.7" y2="606.5" stroke="#1c1cd0" stroke-width="1.6"/>
<path d="M1486.4,606.5 L1497,606.5 L1491.7,596 Z" fill="#1c1cd0"/>
<line x1="1611.2" y1="574.8" x2="1753" y2="574.8" stroke="#c83030" stroke-width="1.7" stroke-dasharray="9.4 9.1"/>
<line x1="1771.4" y1="660.8" x2="1890.7" y2="660.8" stroke="#3a3aa8" stroke-width="1.7" stroke-dasharray="9.4 9.1"/>
<line x1="1887.7" y1="660.8" x2="1887.7" y2="575" stroke="#1c1cd0" stroke-width="1.6"/>
<path d="M1882.4,575 L1893,575 L1887.7,564.5 Z" fill="#1c1cd0"/>
<line x1="1992.2" y1="579" x2="2153" y2="574.7" stroke="#c83030" stroke-width="1.7" stroke-dasharray="9.4 9.1"/>
<line x1="2013.4" y1="578.8" x2="2013.4" y2="704.1" stroke="#d01c1c" stroke-width="1.6"/>
<path d="M2008.1,704.1 L2018.7,704.1 L2013.4,714.6 Z" fill="#d01c1c"/>
<rect x="84.6" y="50.5" width="382" height="381.7" fill="none" stroke="#000" stroke-width="1.35"/>
<rect x="583.6" y="50.5" width="381.4" height="381.7" fill="none" stroke="#000" stroke-width="1.35"/>
<rect x="979.5" y="50.5" width="381.8" height="381.7" fill="none" stroke="#000" stroke-width="1.35"/>
<rect x="1375.4" y="50.5" width="382" height="381.7" fill="none" stroke="#000" stroke-width="1.35"/>
<rect x="1771.8" y="50.5" width="381.4" height="381.7" fill="none" stroke="#000" stroke-width="1.35"/>
<rect x="84.7" y="525.6" width="382.3" height="368.1" fill="none" stroke="#000" stroke-width="1.35"/>
<line x1="220.3" y1="893.7" x2="220.3" y2="883.7" stroke="#000" stroke-width="1.4"/>
<text x="220.3" y="926" font-size="28" text-anchor="middle">1.6</text>
<line x1="390.8" y1="893.7" x2="390.8" y2="883.7" stroke="#000" stroke-width="1.4"/>
<text x="390.8" y="926" font-size="28" text-anchor="middle">1.7</text>
<rect x="583.8" y="525.6" width="381.3" height="368.1" fill="none" stroke="#000" stroke-width="1.35"/>
<line x1="732.6" y1="893.7" x2="732.6" y2="883.7" stroke="#000" stroke-width="1.4"/>
<text x="732.6" y="926" font-size="28" text-anchor="middle">1.6</text>
<line x1="899" y1="893.7" x2="899" y2="883.7" stroke="#000" stroke-width="1.4"/>
<text x="899" y="926" font-size="28" text-anchor="middle">1.7</text>
<rect x="979.3" y="525.6" width="381.9" height="368.1" fill="none" stroke="#000" stroke-width="1.35"/>
<line x1="1128.8" y1="893.7" x2="1128.8" y2="883.7" stroke="#000" stroke-width="1.4"/>
<text x="1128.8" y="926" font-size="28" text-anchor="middle">1.6</text>
<line x1="1295" y1="893.7" x2="1295" y2="883.7" stroke="#000" stroke-width="1.4"/>
<text x="1295" y="926" font-size="28" text-anchor="middle">1.7</text>
<rect x="1375.3" y="525.6" width="381.9" height="368.1" fill="none" stroke="#000" stroke-width="1.35"/>
<line x1="1524.9" y1="893.7" x2="1524.9" y2="883.7" stroke="#000" stroke-width="1.4"/>
<text x="1524.9" y="926" font-size="28" text-anchor="middle">1.6</text>
<line x1="1691.1" y1="893.7" x2="1691.1" y2="883.7" stroke="#000" stroke-width="1.4"/>
<text x="1691.1" y="926" font-size="28" text-anchor="middle">1.7</text>
<rect x="1771.4" y="525.6" width="381.8" height="368.1" fill="none" stroke="#000" stroke-width="1.35"/>
<line x1="1921.1" y1="893.7" x2="1921.1" y2="883.7" stroke="#000" stroke-width="1.4"/>
<text x="1921.1" y="926" font-size="28" text-anchor="middle">1.6</text>
<line x1="2087" y1="893.7" x2="2087" y2="883.7" stroke="#000" stroke-width="1.4"/>
<text x="2087" y="926" font-size="28" text-anchor="middle">1.7</text>
<text x="77.5" y="39.3" font-size="37" font-weight="bold">a</text>
<text x="579.3" y="37" font-size="37" font-weight="bold">b</text>
<text x="974.8" y="37.2" font-size="37" font-weight="bold">c</text>
<text x="1370.8" y="37" font-size="37" font-weight="bold">d</text>
<text x="1766.5" y="37.2" font-size="37" font-weight="bold">e</text>
<text x="79.5" y="512" font-size="37" font-weight="bold">f</text>
<text x="578.8" y="512" font-size="37" font-weight="bold">g</text>
<text x="974.5" y="512" font-size="37" font-weight="bold">h</text>
<text x="1370.3" y="512" font-size="37" font-weight="bold">i</text>
<text x="1766" y="512" font-size="37" font-weight="bold">j</text>
<text x="242.8" y="37.3" font-size="37.6">Exp.</text>
<text x="743" y="37.0" font-size="37.6" letter-spacing="0.6">Cal.</text>
<text x="461" y="95.8" font-size="37" text-anchor="end">θ = 1.07°</text>
<text x="958.6" y="95.6" font-size="37" text-anchor="end">d = 3.35 Å</text>
<text x="1352.4" y="95.8" font-size="37" text-anchor="end">3.40 Å</text>
<text x="1748.4" y="95.8" font-size="37" text-anchor="end">3.42 Å</text>
<text x="2144.4" y="95.8" font-size="37" text-anchor="end">3.50 Å</text>
<text x="269" y="467.8" font-size="27">k<tspan font-size="18.5" dy="7">x</tspan></text>
<text x="1362" y="467.8" font-size="27">k<tspan font-size="18.5" dy="7">x</tspan></text>
<text x="47.9" y="249.5" font-size="27" transform="rotate(-90 47.9 249.5)">k<tspan font-size="18.5" dy="7">y</tspan></text>
<text x="555.8" y="254.5" font-size="27" transform="rotate(-90 555.8 254.5)">k<tspan font-size="18.5" dy="7">y</tspan></text>
<text y="966.8" font-size="27"><tspan x="229.1">k</tspan><tspan x="243.6" font-size="18.5" dy="7">y</tspan><tspan x="260.9" dy="-7">(</tspan><tspan x="270.6">Å</tspan><tspan x="288.5" font-size="18.5" dy="-19">-1</tspan><tspan x="306.4" dy="19">)</tspan></text>
<text y="966.4" font-size="27"><tspan x="1328.8">k</tspan><tspan x="1343.3" font-size="18.5" dy="7">y</tspan><tspan x="1360.6" dy="-7">(</tspan><tspan x="1370.3">Å</tspan><tspan x="1388.2" font-size="18.5" dy="-19">-1</tspan><tspan x="1406.1" dy="19">)</tspan></text>
<text x="55.2" y="793.3" font-size="28" transform="rotate(-90 55.2 793.3)">Intensity (a.u.)</text>
<text x="549.3" y="806.3" font-size="28" transform="rotate(-90 549.3 806.3)">Intensity (a.u.)</text>
</svg>
</body></html>
